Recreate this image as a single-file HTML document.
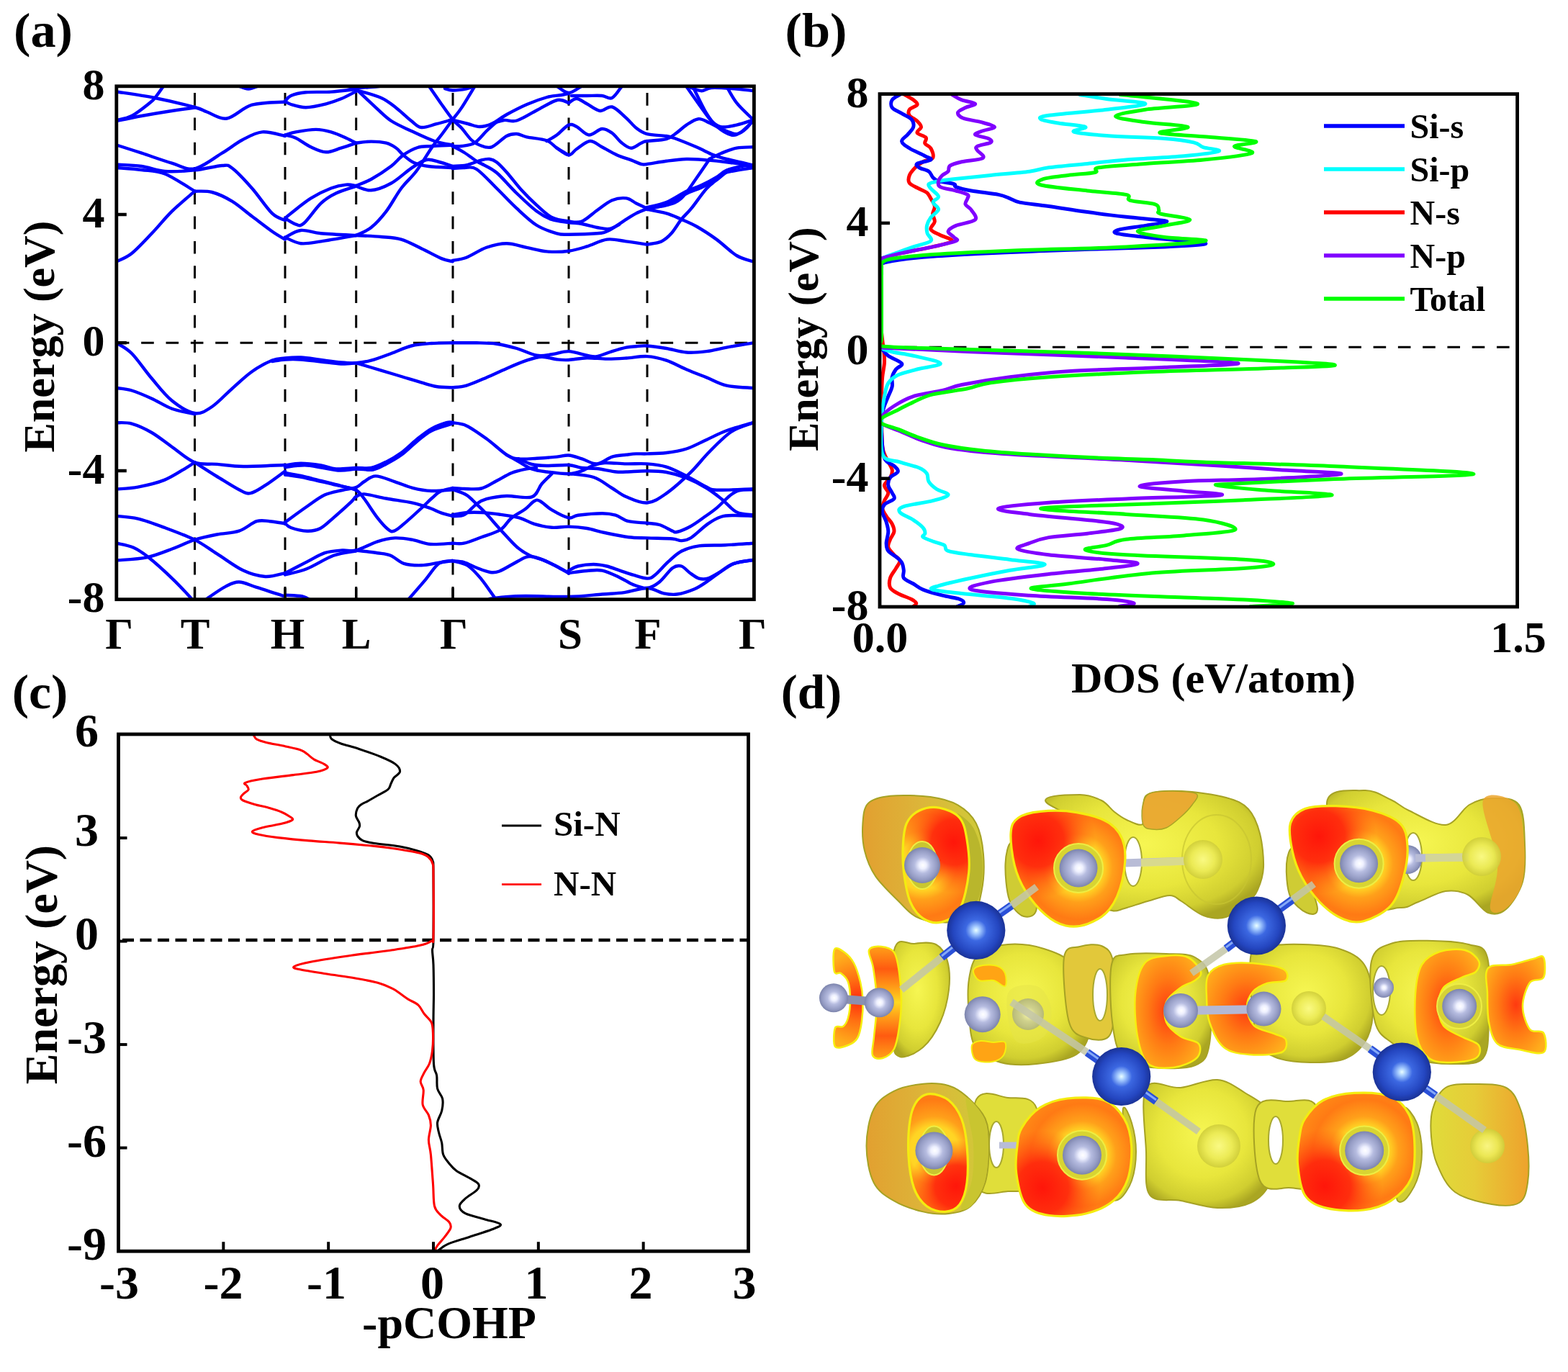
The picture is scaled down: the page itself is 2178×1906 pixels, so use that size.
<!DOCTYPE html>
<html><head><meta charset="utf-8"><title>Figure</title>
<style>html,body{margin:0;padding:0;background:#fff;} svg{display:block;}</style></head>
<body><svg xmlns="http://www.w3.org/2000/svg" width="2178" height="1906" viewBox="0 0 2178 1906" font-family="'Liberation Serif','Times New Roman',serif" font-weight="bold">
<rect width="2178" height="1906" fill="#fff"/>
<path d="M270.5,832.7 L270.5,119.8" stroke="#000" stroke-width="3" stroke-dasharray="17.6 16.7" fill="none"/>
<path d="M396,832.7 L396,119.8" stroke="#000" stroke-width="3" stroke-dasharray="17.6 16.7" fill="none"/>
<path d="M494.7,832.7 L494.7,119.8" stroke="#000" stroke-width="3" stroke-dasharray="17.6 16.7" fill="none"/>
<path d="M629,832.7 L629,119.8" stroke="#000" stroke-width="3" stroke-dasharray="17.6 16.7" fill="none"/>
<path d="M790,832.7 L790,119.8" stroke="#000" stroke-width="3" stroke-dasharray="17.6 16.7" fill="none"/>
<path d="M899,832.7 L899,119.8" stroke="#000" stroke-width="3" stroke-dasharray="17.6 16.7" fill="none"/>
<path d="M161.8,476.2 L1047.4,476.2" stroke="#000" stroke-width="3" stroke-dasharray="17.6 16.75" fill="none"/>
<g fill="none" stroke="#0000ff" stroke-width="4.4" stroke-linecap="round" stroke-linejoin="round" clip-path="url(#clipA)">
<path d="M162.0,127.5 C170.8,128.9 196.9,132.4 215.0,136.0 C233.1,139.6 258.4,145.8 270.5,149.0 C282.6,152.2 280.0,152.9 287.5,155.5 C295.0,158.1 305.0,166.1 315.4,164.5 C325.8,162.9 336.6,149.5 350.0,145.7 C363.4,141.9 388.3,142.2 396.0,141.5"/>
<path d="M162.0,168.0 C167.8,166.8 184.0,163.3 196.8,161.0 C209.6,158.7 226.4,155.9 238.7,154.0 C251.0,152.1 265.2,150.2 270.5,149.5"/>
<path d="M162.0,167.0 C165.5,166.0 175.3,165.0 183.0,161.0 C190.7,157.0 202.4,147.4 208.0,143.0 C213.6,138.6 213.2,138.5 216.4,134.5 C219.7,130.5 225.7,121.6 227.5,119.0"/>
<path d="M330.0,119.0 C332.5,119.8 340.0,123.5 345.0,123.5 C350.0,123.5 357.5,119.8 360.0,119.0"/>
<path d="M162.0,201.5 C167.8,203.4 184.0,208.5 196.8,212.7 C209.6,216.9 226.4,223.0 238.7,226.6 C251.0,230.2 258.9,236.6 270.5,234.3 C282.1,232.0 297.5,219.3 308.5,212.7 C319.5,206.1 327.1,199.4 336.4,194.5 C345.7,189.6 354.4,184.3 364.3,183.4 C374.2,182.5 390.7,188.1 396.0,189.0"/>
<path d="M162.0,228.5 C167.8,228.9 185.6,229.4 196.8,231.0 C208.0,232.6 216.7,237.1 229.0,238.0 C241.3,238.9 257.2,237.7 270.5,236.4 C283.8,235.1 299.9,230.5 308.5,230.0 C317.1,229.5 315.5,228.3 322.4,233.6 C329.3,238.8 340.7,251.0 350.0,261.5 C359.3,272.0 370.3,289.0 378.0,296.4 C385.7,303.8 393.0,304.4 396.0,306.0"/>
<path d="M162.0,233.0 C167.8,233.5 185.6,234.6 196.8,236.0 C208.0,237.4 216.7,236.6 229.0,241.5 C241.3,246.4 263.8,261.7 270.8,265.7"/>
<path d="M270.5,265.7 C274.5,265.9 285.9,264.7 294.5,267.0 C303.1,269.3 313.1,274.0 322.4,279.6 C331.6,285.2 340.7,293.5 350.0,300.5 C359.3,307.5 370.3,316.1 378.0,321.5 C385.7,326.9 393.0,330.8 396.0,332.6"/>
<path d="M162.0,363.3 C165.5,361.4 174.9,358.5 183.0,352.0 C191.1,345.5 201.5,334.0 210.8,324.3 C220.1,314.6 228.8,303.4 238.7,293.6 C248.6,283.8 265.2,270.4 270.5,265.7"/>
<path d="M162.0,476.5 C165.5,478.9 174.9,482.8 183.0,491.0 C191.1,499.2 201.5,514.9 210.8,525.8 C220.1,536.7 228.8,548.5 238.7,556.5 C248.6,564.5 261.2,572.6 270.5,574.0 C279.8,575.4 285.9,570.7 294.5,565.0 C303.1,559.3 313.1,548.0 322.4,539.8 C331.7,531.6 341.0,522.5 350.3,516.0 C359.6,509.4 370.6,503.6 378.2,500.5 C385.8,497.4 389.4,498.2 396.0,497.5 C402.6,496.8 409.6,496.1 417.9,496.5 C426.2,496.9 436.5,498.8 445.8,500.0 C455.1,501.2 465.6,502.8 473.7,503.5 C481.8,504.2 487.6,504.7 494.6,504.2 C501.6,503.7 507.5,502.9 515.6,500.7 C523.8,498.5 534.2,494.4 543.5,491.0 C552.8,487.6 562.1,482.8 571.4,480.5 C580.7,478.2 589.8,477.7 599.3,477.0 C608.8,476.3 623.7,476.4 628.6,476.3"/>
<path d="M162.0,539.0 C165.5,539.6 174.9,540.0 183.0,542.5 C191.1,545.0 201.5,549.5 210.8,553.7 C220.1,557.9 228.8,564.1 238.7,567.7 C248.6,571.3 265.2,574.0 270.5,575.3"/>
<path d="M162.0,587.2 C165.5,587.4 174.9,586.3 183.0,588.6 C191.1,590.9 201.5,595.6 210.8,601.0 C220.1,606.4 228.8,613.8 238.7,620.7 C248.6,627.6 260.0,638.3 270.5,642.3 C281.0,646.3 290.2,643.9 301.5,644.9 C312.8,645.9 322.2,647.8 338.0,648.0 C353.8,648.2 386.3,646.3 396.0,646.0"/>
<path d="M270.5,642.3 C275.7,645.6 291.2,655.7 301.5,662.0 C311.8,668.3 324.3,676.4 332.0,680.3 C339.7,684.2 341.8,686.2 347.9,685.2 C354.0,684.2 360.6,679.3 368.6,674.2 C376.6,669.1 391.4,657.9 396.0,654.6"/>
<path d="M162.0,679.5 C166.9,679.0 180.6,678.7 191.6,676.6 C202.6,674.5 217.0,671.4 228.2,666.9 C239.4,662.4 251.8,653.9 258.8,649.8 C265.9,645.7 268.6,643.5 270.5,642.3"/>
<path d="M162.0,716.9 C166.9,717.5 180.6,718.0 191.6,720.6 C202.6,723.2 215.1,727.9 228.2,732.8 C241.3,737.7 258.2,743.8 270.4,749.9 C282.6,756.0 290.2,762.3 301.5,769.4 C312.8,776.5 326.8,787.3 338.0,792.6 C349.2,797.9 358.9,800.4 368.6,801.0 C378.3,801.6 391.4,797.0 396.0,796.2"/>
<path d="M162.0,778.5 C169.0,777.8 190.7,777.0 203.8,774.3 C216.9,771.5 229.3,766.1 240.4,762.0 C251.5,757.9 260.2,753.1 270.4,749.9 C280.6,746.6 291.2,744.5 301.5,742.5 C311.8,740.5 322.9,740.8 332.0,737.7 C341.1,734.7 349.3,726.5 356.4,724.2 C363.5,722.0 368.1,723.7 374.7,724.2 C381.3,724.7 392.4,726.8 396.0,727.3"/>
<path d="M162.0,754.7 C165.9,755.7 178.1,757.5 185.5,760.8 C192.9,764.1 197.2,767.0 206.3,774.3 C215.5,781.6 230.6,795.4 240.4,804.8 C250.2,814.1 260.3,825.5 264.9,830.4 C269.5,835.3 267.5,833.4 268.0,834.0"/>
<path d="M286.0,834.0 C286.6,833.4 284.7,833.6 289.3,830.4 C293.9,827.2 306.6,818.2 313.7,814.6 C320.8,811.0 324.9,808.3 332.0,808.5 C339.1,808.7 345.7,812.4 356.4,815.8 C367.1,819.1 389.4,826.5 396.0,828.6"/>
<path d="M396.0,140.8 C397.3,139.5 399.2,135.1 404.0,133.0 C408.8,130.9 415.6,129.2 424.9,128.3 C434.2,127.4 448.2,128.3 459.8,127.6 C471.4,126.9 488.8,124.6 494.6,124.0"/>
<path d="M396.0,140.8 C397.3,141.5 399.2,143.6 404.0,145.0 C408.8,146.4 416.8,149.3 424.9,149.2 C433.0,149.1 444.7,146.3 452.8,144.3 C460.9,142.3 466.7,140.2 473.7,137.3 C480.7,134.4 491.1,128.6 494.6,126.9"/>
<path d="M480.7,119.5 C483.0,119.9 488.9,121.8 494.6,122.0 C500.3,122.2 509.1,121.4 515.0,121.0 C520.9,120.6 527.5,119.8 530.0,119.5"/>
<path d="M494.6,125.0 C495.3,125.4 494.2,123.4 498.8,127.6 C503.4,131.8 515.0,143.2 522.5,149.9 C530.0,156.6 535.4,162.7 543.5,168.0 C551.6,173.3 561.4,177.3 571.4,182.0 C581.4,186.7 593.8,192.8 603.4,196.0 C613.0,199.2 624.6,200.6 628.8,201.5"/>
<path d="M494.6,125.0 C500.4,126.8 520.2,131.8 529.5,136.0 C538.8,140.2 543.4,144.6 550.4,149.9 C557.4,155.2 565.6,163.5 571.4,168.0 C577.2,172.5 579.5,176.3 585.3,177.0 C591.1,177.7 599.0,174.0 606.2,172.2 C613.5,170.4 625.0,167.0 628.8,166.0"/>
<path d="M596.5,120.6 C599.1,124.3 606.6,135.4 612.0,143.0 C617.4,150.6 624.0,160.2 628.8,166.0 C633.6,171.8 636.6,173.1 641.0,177.8 C645.4,182.6 650.7,190.6 654.9,194.5 C659.1,198.4 661.4,199.9 666.0,201.5 C670.6,203.1 676.5,206.4 682.8,204.3 C689.1,202.2 697.9,192.1 703.7,189.0 C709.5,185.9 713.1,185.8 717.7,186.0 C722.4,186.2 724.6,188.8 731.6,190.3 C738.6,191.8 752.5,192.6 759.5,195.2 C766.5,197.8 768.4,202.3 773.5,205.7 C778.6,209.1 787.2,213.8 789.9,215.4"/>
<path d="M494.6,327.0 C498.1,325.2 508.6,321.6 515.6,316.0 C522.6,310.4 529.5,302.7 536.5,293.6 C543.5,284.5 550.4,270.8 557.4,261.5 C564.4,252.2 571.3,247.1 578.3,237.8 C585.3,228.5 593.2,214.5 599.3,205.7 C605.4,196.9 610.1,191.6 615.0,185.0 C619.9,178.4 624.5,171.8 628.8,166.0 C633.1,160.2 636.0,157.5 641.0,149.9 C646.0,142.3 656.0,125.5 659.0,120.6"/>
<path d="M396.0,187.5 C398.5,186.8 403.8,184.7 410.9,183.4 C418.0,182.1 430.6,179.9 438.8,179.9 C447.0,179.9 452.8,181.4 459.8,183.4 C466.8,185.4 474.9,189.1 480.7,191.7 C486.5,194.2 492.3,197.5 494.6,198.7"/>
<path d="M396.0,187.5 C398.5,188.2 404.9,188.9 410.9,191.7 C416.9,194.5 424.9,201.0 431.9,204.3 C438.9,207.6 445.8,211.1 452.8,211.3 C459.8,211.5 466.7,207.8 473.7,205.7 C480.7,203.6 491.1,199.9 494.6,198.7"/>
<path d="M494.6,198.7 C498.1,198.3 508.6,196.6 515.6,196.6 C522.6,196.6 530.7,197.2 536.5,198.7 C542.3,200.2 546.4,202.9 550.4,205.7 C554.4,208.5 556.1,212.0 560.2,215.4 C564.3,218.8 569.2,223.4 575.0,226.0 C580.8,228.6 586.0,229.8 595.0,231.0 C604.0,232.2 623.2,232.7 628.8,233.0"/>
<path d="M396.0,303.3 C397.3,302.1 398.0,301.0 404.0,296.4 C410.0,291.8 422.6,281.2 431.9,275.4 C441.2,269.6 451.7,264.6 459.8,261.5 C467.9,258.4 474.9,257.2 480.7,256.6 C486.5,256.0 492.3,257.8 494.6,258.0"/>
<path d="M396.0,303.3 C398.5,304.7 406.6,310.5 410.9,311.7 C415.2,312.9 416.2,315.2 422.0,310.3 C427.8,305.4 438.4,289.4 445.8,282.4 C453.2,275.4 458.6,272.4 466.7,268.5 C474.8,264.6 490.0,260.3 494.6,258.7"/>
<path d="M494.6,258.0 C498.1,256.5 507.5,253.5 515.6,249.0 C523.8,244.5 536.1,236.4 543.5,230.8 C550.9,225.2 554.1,219.7 560.2,215.4 C566.3,211.1 573.4,207.1 580.0,205.0 C586.6,202.9 591.9,203.6 600.0,203.0 C608.1,202.4 624.0,201.8 628.8,201.5"/>
<path d="M494.6,258.7 C498.1,259.6 507.5,265.0 515.6,264.3 C523.8,263.6 534.2,259.6 543.5,254.5 C552.8,249.4 563.3,239.0 571.4,233.6 C579.5,228.2 585.9,223.4 592.3,222.0 C598.7,220.6 603.9,223.5 610.0,225.0 C616.1,226.5 625.7,230.0 628.8,231.0"/>
<path d="M396.0,329.8 C399.6,328.2 409.6,320.9 417.9,320.0 C426.2,319.1 433.0,323.1 445.8,324.3 C458.6,325.5 486.5,326.6 494.6,327.0"/>
<path d="M396.0,329.8 C399.6,331.2 409.6,337.3 417.9,338.2 C426.2,339.1 433.0,337.3 445.8,335.4 C458.6,333.5 486.5,328.4 494.6,327.0"/>
<path d="M494.6,327.0 C500.4,327.3 519.0,328.1 529.5,329.0 C540.0,329.9 548.1,329.9 557.4,332.6 C566.7,335.3 576.0,340.8 585.3,345.2 C594.6,349.6 606.0,356.1 613.2,359.1 C620.5,362.1 626.2,362.6 628.8,363.3"/>
<path d="M378.2,502.0 C381.2,501.6 389.4,499.9 396.0,499.5 C402.6,499.1 409.6,499.0 417.9,499.5 C426.2,500.0 436.5,501.5 445.8,502.5 C455.1,503.5 465.6,505.2 473.7,505.5 C481.8,505.8 491.1,504.4 494.6,504.2"/>
<path d="M494.6,504.2 C500.4,505.9 519.0,511.5 529.5,514.6 C540.0,517.7 548.1,520.2 557.4,523.0 C566.7,525.8 577.2,529.1 585.3,531.4 C593.4,533.7 599.0,535.8 606.2,537.0 C613.4,538.2 624.9,538.2 628.6,538.4"/>
<path d="M396.0,646.5 C399.6,646.0 409.6,643.7 417.9,643.7 C426.2,643.7 437.7,645.2 445.8,646.5 C453.9,647.8 458.6,650.8 466.7,651.4 C474.8,652.0 486.5,650.2 494.6,650.0 C502.8,649.8 508.6,651.4 515.6,650.0 C522.6,648.6 529.5,645.1 536.5,641.6 C543.5,638.1 550.4,634.1 557.4,629.0 C564.4,623.9 571.3,616.5 578.3,610.9 C585.3,605.3 592.3,599.5 599.3,595.6 C606.3,591.7 615.3,588.7 620.2,587.2 C625.1,585.7 627.2,586.9 628.6,586.8"/>
<path d="M396.0,649.0 C401.1,648.6 414.4,645.8 426.6,646.5 C438.8,647.2 458.0,652.7 469.3,653.5 C480.6,654.3 486.5,651.7 494.6,651.5 C502.8,651.3 511.2,653.7 518.2,652.5 C525.2,651.3 530.0,647.9 536.5,644.5 C543.0,641.1 550.4,637.1 557.4,632.0 C564.4,626.9 571.3,619.6 578.3,614.0 C585.3,608.4 590.9,602.8 599.3,598.5 C607.7,594.2 623.7,590.2 628.6,588.5"/>
<path d="M396.0,657.0 C399.6,657.7 409.6,659.2 417.9,661.0 C426.2,662.8 436.5,665.7 445.8,668.0 C455.1,670.3 465.6,672.8 473.7,675.0 C481.8,677.2 489.2,678.0 494.6,681.0 C500.0,684.0 501.1,686.6 506.0,693.0 C510.9,699.4 518.8,712.3 524.3,719.3 C529.8,726.3 535.0,732.1 538.9,735.2 C542.8,738.3 543.8,738.9 547.5,737.7 C551.2,736.5 554.6,733.2 560.9,727.9 C567.2,722.6 578.8,712.0 585.3,706.0 C591.8,700.0 595.5,695.9 600.0,692.0 C604.5,688.1 607.2,684.8 612.0,682.5 C616.8,680.2 625.8,678.8 628.6,678.0"/>
<path d="M396.0,659.5 C401.1,660.3 415.4,662.2 426.6,664.5 C437.8,666.8 451.9,670.4 463.2,673.0 C474.5,675.6 489.4,678.8 494.6,680.0"/>
<path d="M396.0,725.4 C401.1,721.8 417.4,709.8 426.6,703.5 C435.8,697.2 442.9,691.4 451.0,687.6 C459.1,683.9 468.1,682.8 475.4,681.0 C482.7,679.2 489.5,679.0 494.6,677.0 C499.7,675.0 501.5,671.6 506.0,669.0 C510.5,666.4 514.7,661.4 521.8,661.4 C528.9,661.4 540.2,666.6 548.7,669.3 C557.2,672.0 564.7,675.7 573.1,677.8 C581.5,679.9 590.0,681.6 599.3,682.0 C608.5,682.4 623.7,680.6 628.6,680.3"/>
<path d="M396.0,727.0 C397.3,728.0 398.9,731.2 404.0,733.0 C409.1,734.8 419.8,737.5 426.6,737.7 C433.4,737.9 438.9,737.1 445.0,734.0 C451.1,730.9 456.1,725.4 463.2,719.3 C470.3,713.2 482.5,702.3 487.7,697.4 C492.9,692.5 491.6,691.8 494.6,690.0 C497.7,688.2 499.0,686.0 506.0,686.4 C513.0,686.8 525.3,690.5 536.5,692.5 C547.7,694.5 562.9,696.4 573.1,698.6 C583.3,700.9 590.8,703.6 597.5,706.0 C604.2,708.4 608.0,710.9 613.2,712.7 C618.4,714.5 626.0,716.2 628.6,716.9"/>
<path d="M396.0,796.2 C401.1,793.6 417.4,785.1 426.6,780.4 C435.8,775.7 442.9,770.9 451.0,768.2 C459.1,765.6 468.1,765.1 475.4,764.5 C482.7,763.9 486.5,766.5 494.6,764.5 C502.8,762.5 515.3,755.1 524.3,752.3 C533.3,749.4 540.6,747.8 548.7,747.4 C556.8,747.0 565.0,748.5 573.1,749.9 C581.2,751.3 588.2,755.2 597.5,756.0 C606.8,756.8 623.4,754.9 628.6,754.7"/>
<path d="M396.0,798.5 C401.1,797.1 415.4,794.5 426.6,790.0 C437.8,785.5 451.9,775.9 463.2,771.8 C474.5,767.7 489.4,766.5 494.6,765.5"/>
<path d="M494.6,764.5 C499.6,765.1 516.3,767.0 524.3,768.2 C532.3,769.4 536.5,769.4 542.6,771.8 C548.7,774.2 553.8,780.5 560.9,782.8 C568.0,785.0 577.2,785.5 585.3,785.3 C593.4,785.1 602.5,782.6 609.7,781.6 C616.9,780.6 625.5,779.4 628.6,779.0"/>
<path d="M567.0,833.0 C571.1,828.3 584.3,813.2 591.4,804.8 C598.5,796.4 603.5,787.1 609.7,782.8 C615.9,778.5 625.5,779.6 628.6,779.0"/>
<path d="M396.0,826.8 C400.0,827.1 414.0,827.3 420.0,828.5 C426.0,829.7 430.0,833.1 432.0,834.0"/>
<path d="M618.0,123.0 C619.8,123.4 623.6,125.4 628.6,125.5 C633.6,125.6 642.8,124.4 647.9,123.4 C653.0,122.4 657.1,120.2 659.0,119.5"/>
<path d="M628.6,166.6 C632.2,167.5 643.8,170.4 650.0,172.0 C656.2,173.6 660.5,176.0 666.0,176.0 C671.5,176.0 676.7,174.8 683.0,172.0 C689.3,169.2 695.8,163.5 704.0,159.0 C712.2,154.5 722.7,149.0 732.0,145.0 C741.3,141.0 752.0,137.2 760.0,135.0 C768.0,132.8 775.0,132.8 780.0,132.0 C785.0,131.2 788.3,130.3 790.0,130.0"/>
<path d="M683.0,172.0 C685.8,171.2 694.2,167.8 700.0,167.0 C705.8,166.2 710.3,169.8 718.0,167.5 C725.7,165.2 736.7,157.8 746.0,153.0 C755.3,148.2 766.7,140.7 774.0,139.0 C781.3,137.3 787.3,142.3 790.0,143.0"/>
<path d="M628.6,203.0 C630.7,203.0 635.9,203.7 641.0,203.0 C646.1,202.3 653.2,202.2 659.0,198.7 C664.8,195.2 670.7,186.9 675.8,182.0 C680.9,177.1 687.5,171.5 689.8,169.4"/>
<path d="M628.6,203.0 C631.3,204.5 639.5,208.5 645.0,212.0 C650.5,215.5 657.7,221.1 661.9,223.8 C666.1,226.5 668.6,227.3 670.0,228.0"/>
<path d="M628.6,231.0 C631.8,230.7 641.2,230.8 647.9,229.4 C654.6,228.0 663.4,223.8 668.8,222.4 C674.1,221.0 676.5,220.5 680.0,221.0 C683.5,221.5 685.8,222.2 689.8,225.2 C693.8,228.2 697.9,232.7 703.7,239.2 C709.5,245.7 717.6,256.6 724.6,264.3 C731.6,272.0 738.6,278.9 745.6,285.2 C752.6,291.5 759.1,298.3 766.5,302.0 C773.9,305.7 782.9,306.6 789.9,307.5 C796.9,308.4 801.7,310.1 808.3,307.5 C814.9,304.9 822.3,297.1 829.3,292.2 C836.3,287.3 843.4,281.0 850.2,278.2 C857.0,275.4 864.4,274.7 870.0,275.4 C875.6,276.1 878.9,280.1 883.7,282.4 C888.5,284.7 896.3,288.2 898.8,289.4"/>
<path d="M628.6,234.0 C631.3,233.8 639.5,232.8 645.0,233.0 C650.5,233.2 654.4,230.2 661.9,235.0 C669.4,239.8 680.5,252.4 689.8,261.5 C699.1,270.6 708.4,280.8 717.7,289.4 C727.0,298.0 736.3,307.2 745.6,313.0 C754.9,318.8 766.1,322.2 773.5,324.3 C780.9,326.4 780.6,325.7 789.9,325.7 C799.2,325.7 819.9,325.2 829.3,324.3 C838.6,323.4 839.2,323.3 846.0,320.0 C852.8,316.7 863.7,308.6 870.0,304.7 C876.3,300.8 878.9,298.8 883.7,296.4 C888.5,293.9 896.3,291.1 898.8,290.0"/>
<path d="M670.0,228.0 C673.3,230.0 682.0,233.2 690.0,240.0 C698.0,246.8 708.4,259.6 717.7,268.5 C727.0,277.4 737.5,287.5 745.6,293.6 C753.7,299.7 759.1,302.4 766.5,305.0 C773.9,307.6 782.9,308.0 789.9,309.0 C796.9,310.0 801.7,309.8 808.3,311.0 C814.9,312.2 823.0,314.8 829.3,316.0 C835.6,317.2 840.9,318.7 846.0,318.0 C851.1,317.3 857.7,313.0 860.0,312.0"/>
<path d="M628.6,362.0 C631.8,361.3 640.0,360.7 647.9,357.7 C655.8,354.7 666.5,347.1 675.8,343.8 C685.1,340.6 694.4,338.2 703.7,338.2 C713.0,338.2 722.3,341.9 731.6,343.8 C740.9,345.7 749.8,348.6 759.5,349.4 C769.2,350.2 780.6,349.9 789.9,348.7 C799.2,347.5 806.4,345.1 815.3,342.4 C824.2,339.7 834.1,333.8 843.2,332.6 C852.3,331.4 860.5,334.2 869.8,335.4 C879.1,336.6 894.0,338.9 898.8,339.6"/>
<path d="M773.5,119.5 C776.2,121.1 784.1,129.0 789.9,129.0 C795.6,129.0 805.0,121.1 808.0,119.5"/>
<path d="M794.0,133.0 C797.5,133.0 808.3,133.0 815.3,133.0 C822.3,133.0 830.4,132.5 836.2,133.0 C842.0,133.5 845.6,138.2 850.2,136.0 C854.8,133.8 861.7,122.2 864.0,119.5"/>
<path d="M789.9,143.0 C791.8,142.0 796.8,136.8 801.0,137.0 C805.2,137.2 809.9,141.5 815.3,144.3 C820.7,147.1 827.6,153.3 833.4,154.0 C839.2,154.7 844.1,146.9 850.2,148.5 C856.3,150.1 864.2,158.9 869.8,163.8 C875.4,168.7 878.9,174.1 883.7,177.8 C888.5,181.5 891.8,184.3 898.8,186.2 C905.8,188.1 918.8,187.9 925.6,189.0 C932.4,190.1 932.5,190.4 939.5,193.0 C946.5,195.6 958.8,200.6 967.4,204.3 C976.0,208.0 984.1,212.6 991.1,215.4 C998.1,218.2 1000.1,218.7 1009.3,221.0 C1018.4,223.3 1039.9,228.0 1046.0,229.4"/>
<path d="M759.5,196.0 C761.8,194.6 768.4,191.2 773.5,187.5 C778.6,183.8 785.3,175.5 789.9,173.6 C794.5,171.7 796.3,173.7 801.0,176.0 C805.7,178.3 812.1,187.0 818.0,187.5 C823.9,188.0 830.8,179.4 836.2,179.0 C841.6,178.6 845.7,181.6 850.2,184.8 C854.7,188.0 858.6,194.5 863.0,198.0 C867.4,201.5 872.1,205.6 876.7,205.7 C881.3,205.8 887.0,200.3 890.7,198.7 C894.4,197.1 893.0,196.9 898.8,196.0 C904.6,195.1 918.8,195.0 925.6,193.1 C932.4,191.2 934.9,188.1 939.5,184.8 C944.1,181.6 948.4,176.9 953.5,173.6 C958.6,170.3 964.9,165.7 970.2,165.2 C975.6,164.7 980.2,168.5 985.6,170.8 C991.0,173.1 996.0,176.6 1002.3,179.2 C1008.6,181.8 1017.4,186.4 1023.2,186.2 C1029.0,186.0 1033.4,181.1 1037.2,177.8 C1041.0,174.5 1044.5,168.5 1046.0,166.6"/>
<path d="M773.5,205.7 C776.2,207.3 785.3,215.2 789.9,215.4 C794.5,215.6 796.1,210.2 801.0,207.0 C805.9,203.8 813.6,196.4 819.5,196.0 C825.4,195.6 829.9,201.1 836.2,204.3 C842.5,207.5 850.5,212.4 857.2,215.4 C864.0,218.4 871.1,220.3 876.7,222.4 C882.3,224.5 887.0,227.1 890.7,228.0 C894.4,228.9 893.0,228.7 898.8,228.0 C904.6,227.3 916.5,225.0 925.6,223.8 C934.7,222.6 944.2,221.2 953.5,221.0 C962.8,220.8 972.1,221.7 981.4,222.4 C990.7,223.1 998.5,223.8 1009.3,225.2 C1020.1,226.6 1039.9,229.9 1046.0,230.8"/>
<path d="M953.0,119.5 C956.6,124.6 968.5,141.8 974.4,149.9 C980.3,158.0 983.6,163.6 988.3,168.0 C992.9,172.4 996.5,175.5 1002.3,176.4 C1008.1,177.3 1015.9,175.2 1023.2,173.6 C1030.5,172.0 1042.2,167.8 1046.0,166.6"/>
<path d="M962.0,119.5 C965.2,125.8 975.5,147.8 981.0,157.0 C986.5,166.2 989.1,169.9 995.0,175.0 C1000.9,180.1 1010.4,186.2 1016.2,187.5 C1022.0,188.8 1025.0,186.2 1030.0,183.0 C1035.0,179.8 1043.3,170.5 1046.0,168.0"/>
<path d="M1009.0,119.5 C1011.4,123.4 1017.0,135.2 1023.2,142.9 C1029.4,150.7 1042.2,162.2 1046.0,166.0"/>
<path d="M960.0,122.0 C962.4,122.7 969.7,126.2 974.4,126.2 C979.1,126.2 981.1,122.5 988.0,122.0 C994.9,121.5 1006.3,122.3 1016.0,123.0 C1025.7,123.7 1041.0,125.5 1046.0,126.0"/>
<path d="M1046.0,204.3 C1042.2,204.5 1030.5,204.3 1023.2,205.7 C1015.9,207.1 1008.7,210.1 1002.3,212.7 C995.9,215.2 987.9,219.6 985.0,221.0"/>
<path d="M1046.0,229.4 C1043.3,229.7 1036.1,229.8 1030.0,231.0 C1023.9,232.2 1015.1,233.9 1009.3,236.4 C1003.5,238.9 1001.1,242.6 995.3,246.1 C989.5,249.6 981.4,254.0 974.4,257.3 C967.4,260.6 961.6,261.8 953.5,265.7 C945.4,269.6 934.7,277.3 925.6,281.0 C916.5,284.7 903.3,286.8 898.8,288.0"/>
<path d="M1046.0,233.0 C1039.9,234.1 1017.8,236.8 1009.3,239.5 C1000.8,242.2 1001.1,246.0 995.3,249.5 C989.5,253.0 981.4,257.2 974.4,260.5 C967.4,263.8 961.6,265.1 953.5,269.0 C945.4,272.9 934.7,280.3 925.6,284.0 C916.5,287.7 903.3,289.8 898.8,291.0"/>
<path d="M985.6,221.0 C982.6,225.4 973.9,238.4 967.4,247.5 C960.9,256.6 953.5,269.1 946.5,275.4 C939.5,281.7 933.6,282.9 925.6,285.2 C917.6,287.5 903.3,288.4 898.8,289.0"/>
<path d="M1012.0,236.5 C1009.7,238.4 1003.1,243.8 998.0,248.0 C992.9,252.2 987.7,255.1 981.4,262.0 C975.1,268.9 966.2,282.3 960.4,289.4 C954.6,296.5 951.1,298.9 946.5,304.7 C941.9,310.5 937.1,319.2 932.5,324.3 C927.9,329.4 924.2,332.8 918.6,335.4 C913.0,337.9 902.1,338.9 898.8,339.6"/>
<path d="M898.8,290.8 C903.3,291.7 917.6,294.1 925.6,296.4 C933.6,298.7 939.5,301.7 946.5,304.7 C953.5,307.7 959.3,309.9 967.4,314.5 C975.5,319.1 986.0,325.9 995.3,332.6 C1004.6,339.4 1014.8,349.9 1023.2,355.0 C1031.7,360.1 1042.2,361.9 1046.0,363.3"/>
<path d="M628.6,476.3 C634.1,476.3 651.7,476.1 661.9,476.3 C672.1,476.5 680.5,476.4 689.8,477.7 C699.1,479.0 708.4,481.3 717.7,484.0 C727.0,486.7 737.5,492.3 745.6,493.7 C753.7,495.1 759.1,493.2 766.5,492.3 C773.9,491.4 781.8,487.9 789.9,488.1 C798.0,488.3 808.7,492.5 815.3,493.7 C821.9,494.9 823.5,496.0 829.3,495.1 C835.1,494.2 843.4,490.2 850.2,488.1 C857.0,486.0 864.4,483.8 870.0,482.6 C875.6,481.5 878.9,481.6 883.7,481.2 C888.5,480.8 891.8,480.0 898.8,480.5 C905.8,481.0 916.5,482.5 925.6,484.0 C934.7,485.5 944.2,488.8 953.5,489.5 C962.8,490.2 972.1,489.2 981.4,488.1 C990.7,487.0 998.5,484.6 1009.3,482.6 C1020.1,480.6 1039.9,477.4 1046.0,476.3"/>
<path d="M628.6,538.4 C631.8,537.9 640.0,537.9 647.9,535.6 C655.8,533.3 666.5,528.4 675.8,524.4 C685.1,520.4 694.4,515.9 703.7,511.9 C713.0,507.9 723.5,503.4 731.6,500.7 C739.7,498.0 745.5,496.0 752.5,495.8 C759.5,495.6 767.3,498.6 773.5,499.3 C779.7,500.0 782.9,500.4 789.9,500.0 C796.9,499.6 806.4,497.4 815.3,497.2 C824.2,497.0 834.1,498.6 843.2,498.6 C852.3,498.7 860.7,498.1 870.0,497.5 C879.3,496.9 889.5,494.6 898.8,495.1 C908.1,495.6 916.5,497.7 925.6,500.7 C934.7,503.7 944.2,509.3 953.5,513.2 C962.8,517.2 972.1,520.7 981.4,524.4 C990.7,528.1 998.5,533.2 1009.3,535.6 C1020.1,538.0 1039.9,538.4 1046.0,539.0"/>
<path d="M628.6,587.2 C631.8,587.9 640.0,587.7 647.9,591.4 C655.8,595.1 666.5,602.8 675.8,609.5 C685.1,616.2 696.3,627.1 703.7,631.8 C711.1,636.4 713.4,636.6 720.4,637.4 C727.4,638.2 736.8,637.2 745.6,636.7 C754.5,636.2 766.1,635.3 773.5,634.6 C780.9,633.9 784.1,632.0 789.9,632.5 C795.7,633.0 801.7,635.4 808.3,637.4 C814.9,639.4 822.3,644.9 829.3,644.4 C836.3,643.9 843.4,636.7 850.2,634.6 C857.0,632.5 864.4,632.5 870.0,631.8 C875.6,631.1 878.9,630.6 883.7,630.4 C888.5,630.2 891.8,630.6 898.8,630.4 C905.8,630.2 916.5,630.1 925.6,629.0 C934.7,627.9 944.2,626.5 953.5,623.5 C962.8,620.5 972.1,615.1 981.4,610.9 C990.7,606.7 998.5,602.2 1009.3,598.3 C1020.1,594.3 1039.9,589.1 1046.0,587.2"/>
<path d="M703.7,631.8 C706.4,633.3 714.2,637.7 720.0,641.0 C725.8,644.3 732.0,649.0 738.6,651.4 C745.2,653.8 751.0,654.4 759.5,655.5 C768.0,656.6 781.8,658.5 789.9,658.3 C798.0,658.1 802.9,656.1 808.3,654.2 C813.7,652.4 817.0,649.1 822.3,647.2 C827.6,645.3 832.0,643.5 840.0,643.0 C848.0,642.5 860.2,644.2 870.0,644.4 C879.8,644.6 889.5,643.7 898.8,644.4 C908.1,645.1 916.5,645.8 925.6,648.6 C934.7,651.4 944.2,656.5 953.5,661.1 C962.8,665.8 974.4,673.2 981.4,676.5 C988.4,679.8 984.5,680.2 995.3,680.7 C1006.1,681.2 1037.5,679.5 1046.0,679.3"/>
<path d="M720.4,637.4 C723.4,638.7 732.1,643.4 738.6,645.0 C745.1,646.6 751.0,646.8 759.5,647.0 C768.0,647.2 781.8,645.5 789.9,646.0 C798.0,646.5 801.7,649.2 808.3,650.0 C814.9,650.8 821.4,650.1 829.3,651.0 C837.2,651.9 849.0,654.8 855.8,655.5 C862.6,656.2 862.8,655.7 870.0,655.5 C877.2,655.3 889.5,654.1 898.8,654.2 C908.1,654.3 916.5,654.4 925.6,656.0 C934.7,657.6 944.2,660.3 953.5,664.0 C962.8,667.7 973.3,673.1 981.4,678.0 C989.5,682.9 995.3,687.6 1002.3,693.2 C1009.3,698.8 1015.9,707.7 1023.2,711.4 C1030.5,715.1 1042.2,714.8 1046.0,715.5"/>
<path d="M789.9,658.0 C795.7,658.8 814.6,659.7 824.6,663.0 C834.6,666.3 842.5,673.5 850.0,678.0 C857.5,682.5 861.4,686.6 869.5,690.0 C877.6,693.4 889.4,699.3 898.8,698.5 C908.2,697.7 915.6,692.4 925.7,685.4 C935.8,678.4 949.5,665.8 959.4,656.2 C969.3,646.6 975.6,637.4 985.0,628.0 C994.4,618.6 1005.3,606.8 1015.5,600.0 C1025.7,593.2 1040.9,589.6 1046.0,587.5"/>
<path d="M628.6,677.9 C631.3,678.1 638.3,678.9 645.0,679.0 C651.7,679.1 661.3,680.3 668.8,678.5 C676.3,676.7 682.8,671.6 689.8,668.0 C696.8,664.4 703.7,659.8 710.7,657.0 C717.7,654.2 725.9,652.6 731.6,651.4 C737.3,650.2 742.8,650.2 745.0,650.0"/>
<path d="M628.6,680.0 C631.8,681.3 642.4,684.2 647.9,687.6 C653.4,691.0 657.2,695.8 661.9,700.2 C666.5,704.6 670.2,708.1 675.8,714.1 C681.4,720.1 688.7,728.8 695.7,736.4 C702.7,744.0 711.0,753.7 717.7,759.6 C724.4,765.5 729.9,768.8 736.0,771.8 C742.1,774.8 748.2,775.4 754.3,777.9 C760.4,780.4 766.7,783.5 772.6,786.5 C778.5,789.5 787.0,794.6 789.9,796.2"/>
<path d="M628.6,717.0 C631.3,716.7 639.5,717.8 645.0,715.0 C650.5,712.2 656.8,703.8 661.9,700.2 C667.0,696.6 668.8,695.1 675.8,693.2 C682.8,691.3 693.2,689.5 703.7,689.0 C714.2,688.5 730.5,693.2 738.6,690.4 C746.7,687.6 747.9,677.6 752.5,672.3 C757.1,666.9 764.2,660.6 766.5,658.3"/>
<path d="M628.6,715.0 C632.2,714.5 643.3,712.5 650.0,712.0 C656.7,711.5 661.6,711.6 668.8,712.0 C676.0,712.4 684.5,713.3 693.2,714.5 C702.0,715.7 713.2,717.1 721.3,719.3 C729.4,721.5 734.5,725.6 742.0,727.9 C749.5,730.1 758.5,732.2 766.5,732.8 C774.5,733.4 781.8,731.4 789.9,731.6 C798.0,731.8 807.0,732.6 815.3,734.0 C823.6,735.4 830.1,738.0 839.7,740.0 C849.4,742.0 863.3,745.0 873.2,746.2 C883.1,747.4 888.9,747.0 899.0,747.4 C909.1,747.8 926.1,747.9 934.0,748.5 C941.9,749.1 942.2,751.4 946.5,751.1 C950.8,750.9 953.9,750.9 960.0,747.0 C966.1,743.1 976.2,732.7 983.1,727.9 C990.0,723.1 995.2,720.0 1001.4,718.0 C1007.5,716.0 1012.6,716.2 1020.0,716.0 C1027.4,715.8 1041.7,716.8 1046.0,716.9"/>
<path d="M628.6,754.7 C631.2,754.7 637.7,756.1 644.4,754.7 C651.1,753.3 660.4,749.3 668.8,746.2 C677.2,743.1 688.1,740.4 695.0,736.0 C701.9,731.6 704.2,724.8 710.0,720.0 C715.8,715.2 724.6,711.0 729.9,707.0 C735.2,703.0 738.6,698.0 742.0,696.2 C745.4,694.4 745.9,694.0 750.0,696.0 C754.1,698.0 759.9,704.5 766.5,708.4 C773.1,712.3 783.8,718.1 789.9,719.3 C796.0,720.5 795.2,716.7 803.0,715.7 C810.8,714.7 827.9,713.2 836.6,713.2 C845.3,713.2 848.9,713.9 855.0,715.7 C861.1,717.5 865.9,722.4 873.2,724.2 C880.5,726.0 891.9,725.9 899.0,726.7 C906.1,727.5 910.1,727.2 916.0,729.0 C921.9,730.8 930.2,736.0 934.3,737.7 C938.4,739.4 936.3,740.0 940.4,739.0 C944.5,738.0 952.6,734.8 958.7,731.5 C964.8,728.2 970.9,723.6 977.0,719.3 C983.1,715.0 989.2,711.0 995.3,705.9 C1001.4,700.8 1008.5,692.9 1013.6,688.8 C1018.7,684.7 1020.4,682.9 1025.8,681.5 C1031.2,680.1 1042.6,680.5 1046.0,680.3"/>
<path d="M628.6,779.2 C631.2,779.5 638.7,779.4 644.4,781.0 C650.1,782.6 656.6,786.7 662.7,789.0 C668.8,791.3 675.9,794.2 681.0,795.0 C686.1,795.8 688.1,795.6 693.2,793.8 C698.3,792.0 705.5,787.2 711.6,784.0 C717.7,780.8 725.2,776.0 729.9,774.3 C734.6,772.5 735.9,772.9 740.0,773.5 C744.1,774.1 748.9,775.7 754.3,777.9 C759.7,780.1 766.7,783.5 772.6,786.5 C778.5,789.5 787.0,794.6 789.9,796.2"/>
<path d="M628.6,779.2 C632.2,780.3 643.3,781.7 650.0,786.0 C656.7,790.3 662.6,797.4 668.8,804.8 C675.0,812.2 683.7,825.7 687.1,830.4 C690.5,835.1 688.7,832.6 689.0,833.0"/>
<path d="M680.0,832.0 C683.3,831.6 691.7,830.2 700.0,829.5 C708.3,828.8 714.9,828.1 729.9,828.0 C744.9,827.9 772.1,829.4 789.9,829.0 C807.7,828.6 823.7,826.5 836.6,825.5 C849.5,824.5 856.7,824.5 867.1,823.1 C877.5,821.7 889.9,816.8 899.0,817.0 C908.1,817.2 915.1,822.9 922.0,824.3 C928.9,825.7 933.3,826.5 940.4,825.5 C947.5,824.5 957.7,821.2 964.8,818.2 C971.9,815.2 977.0,811.3 983.1,807.2 C989.2,803.1 995.3,797.9 1001.4,793.8 C1007.5,789.7 1012.3,785.4 1019.7,782.8 C1027.1,780.2 1041.6,778.8 1046.0,778.0"/>
<path d="M789.9,792.6 C792.1,791.6 797.2,787.9 803.0,786.5 C808.8,785.1 817.8,784.0 824.4,784.0 C831.0,784.0 836.6,785.1 842.7,786.5 C848.8,787.9 854.9,790.6 861.0,792.6 C867.1,794.6 873.0,796.9 879.3,798.7 C885.6,800.5 893.9,803.6 899.0,803.6 C904.1,803.6 905.0,802.6 909.9,798.7 C914.8,794.8 922.1,785.9 928.2,780.4 C934.3,774.9 939.4,769.4 946.5,765.7 C953.6,762.0 960.7,759.8 970.9,758.4 C981.1,757.0 995.0,757.8 1007.5,757.2 C1020.0,756.6 1039.6,755.1 1046.0,754.7"/>
<path d="M789.9,796.0 C794.1,795.5 807.2,793.6 815.0,793.0 C822.8,792.4 828.9,791.0 836.6,792.6 C844.3,794.2 853.9,799.1 861.0,802.4 C868.1,805.6 873.0,809.7 879.3,812.1 C885.6,814.5 892.9,817.6 899.0,817.0 C905.1,816.4 910.1,813.2 916.0,808.5 C921.9,803.8 929.2,792.7 934.3,789.0 C939.4,785.3 942.4,785.3 946.5,786.5 C950.6,787.7 954.6,793.4 958.7,796.2 C962.8,799.1 966.9,802.4 970.9,803.6 C974.9,804.8 977.9,805.2 983.0,803.6 C988.1,802.0 995.3,797.3 1001.4,793.8 C1007.5,790.3 1012.3,785.4 1019.7,782.8 C1027.1,780.2 1041.6,778.8 1046.0,778.0"/>
</g>
<rect x="161.8" y="119.8" width="885.6000000000001" height="712.9000000000001" fill="none" stroke="#000" stroke-width="4.8"/>
<line x1="161.8" y1="298" x2="175.8" y2="298" stroke="#000" stroke-width="4.5" />
<line x1="161.8" y1="476.2" x2="175.8" y2="476.2" stroke="#000" stroke-width="4.5" />
<line x1="161.8" y1="654" x2="175.8" y2="654" stroke="#000" stroke-width="4.5" />
<line x1="270.5" y1="832.7" x2="270.5" y2="816.7" stroke="#000" stroke-width="3.5" />
<line x1="396" y1="832.7" x2="396" y2="816.7" stroke="#000" stroke-width="3.5" />
<line x1="494.7" y1="832.7" x2="494.7" y2="816.7" stroke="#000" stroke-width="3.5" />
<line x1="629" y1="832.7" x2="629" y2="816.7" stroke="#000" stroke-width="3.5" />
<line x1="790" y1="832.7" x2="790" y2="816.7" stroke="#000" stroke-width="3.5" />
<line x1="899" y1="832.7" x2="899" y2="816.7" stroke="#000" stroke-width="3.5" />
<text x="145.5" y="138" font-size="62" text-anchor="end" >8</text>
<text x="145.5" y="316" font-size="62" text-anchor="end" >4</text>
<text x="145.5" y="494.2" font-size="62" text-anchor="end" >0</text>
<text x="145.5" y="672" font-size="62" text-anchor="end" >-4</text>
<text x="145.5" y="850" font-size="62" text-anchor="end" >-8</text>
<text x="165.6" y="901" font-size="61" text-anchor="middle" >Γ</text>
<text x="271" y="901" font-size="61" text-anchor="middle" >T</text>
<text x="399.6" y="901" font-size="61" text-anchor="middle" >H</text>
<text x="495" y="901" font-size="61" text-anchor="middle" >L</text>
<text x="630.5" y="901" font-size="61" text-anchor="middle" >Γ</text>
<text x="792" y="901" font-size="61" text-anchor="middle" >S</text>
<text x="900" y="901" font-size="61" text-anchor="middle" >F</text>
<text x="1045.5" y="901" font-size="61" text-anchor="middle" >Γ</text>
<text transform="translate(75,467.5) rotate(-90)" font-size="62" text-anchor="middle">Energy (eV)</text>
<text transform="translate(60,64.5) scale(1.05,1)" font-size="67" text-anchor="middle">(a)</text>
<defs><clipPath id="clipA"><rect x="161.8" y="119.8" width="885.6000000000001" height="712.9000000000001"/></clipPath><clipPath id="clipB"><rect x="1222" y="130.6" width="885.5999999999999" height="712.4"/></clipPath><clipPath id="clipC"><rect x="164.5" y="1020" width="875" height="718"/></clipPath></defs>
<path d="M1222,482.2 L2107.6,482.2" stroke="#000" stroke-width="3" stroke-dasharray="17.6 16.68" fill="none"/>
<g fill="none" stroke-width="5" stroke-linecap="round" stroke-linejoin="round" clip-path="url(#clipB)">
<path stroke="#ff0000" d="M1256.6,131.5 C1258.6,132.7 1265.8,136.5 1268.7,138.8 C1271.6,141.1 1274.9,143.3 1274.0,145.5 C1273.1,147.7 1265.1,149.7 1263.3,152.2 C1261.5,154.7 1261.5,157.6 1263.3,160.3 C1265.1,163.0 1271.3,165.6 1274.0,168.3 C1276.7,171.0 1279.5,173.7 1279.5,176.4 C1279.5,179.1 1272.9,182.0 1274.0,184.5 C1275.1,187.0 1284.4,188.8 1286.2,191.2 C1288.0,193.6 1283.7,196.7 1284.8,199.2 C1285.9,201.7 1291.1,202.6 1292.9,206.0 C1294.7,209.4 1297.4,216.3 1295.6,219.4 C1293.8,222.5 1286.1,222.5 1282.1,224.7 C1278.1,226.9 1274.5,229.7 1271.4,232.8 C1268.3,235.9 1264.7,239.9 1263.3,243.5 C1261.9,247.1 1261.0,251.2 1263.3,254.3 C1265.5,257.4 1272.8,260.1 1276.8,262.3 C1280.8,264.5 1284.8,265.4 1287.5,267.7 C1290.2,269.9 1291.1,272.7 1292.9,275.8 C1294.7,278.9 1297.8,282.9 1298.3,286.5 C1298.8,290.1 1295.6,293.6 1295.6,297.2 C1295.6,300.8 1298.8,304.4 1298.3,308.0 C1297.8,311.6 1291.6,315.6 1292.9,318.7 C1294.2,321.8 1301.4,324.1 1306.3,326.8 C1311.2,329.5 1324.2,332.1 1322.4,334.8 C1320.6,337.5 1306.8,340.2 1295.6,342.9 C1284.4,345.6 1267.1,348.3 1255.3,351.0 C1243.5,353.7 1230.1,356.7 1225.0,359.0 C1219.9,361.3 1224.6,364.0 1224.5,365.0"/>
<path stroke="#ff0000" d="M1224.5,462.0 C1224.8,464.2 1225.4,470.3 1226.0,475.0 C1226.6,479.7 1227.6,485.0 1228.0,490.0 C1228.4,495.0 1228.8,499.3 1228.4,504.9 C1228.0,510.5 1226.4,516.2 1225.7,523.7 C1225.0,531.2 1224.7,541.1 1224.5,550.0 C1224.3,558.9 1224.3,565.3 1224.5,577.0 C1224.7,588.7 1224.6,610.1 1225.7,620.0 C1226.8,629.9 1228.8,631.1 1231.1,636.5 C1233.3,641.9 1238.3,648.1 1239.2,652.6 C1240.1,657.1 1238.3,659.8 1236.5,663.4 C1234.7,667.0 1228.9,670.5 1228.4,674.1 C1228.0,677.7 1233.8,681.2 1233.8,684.8 C1233.8,688.4 1229.8,692.0 1228.4,695.6 C1227.1,699.2 1225.2,702.7 1225.7,706.3 C1226.2,709.9 1228.8,713.4 1231.1,717.0 C1233.3,720.6 1237.4,724.2 1239.2,727.8 C1241.0,731.4 1242.4,735.0 1241.9,738.6 C1241.5,742.2 1237.8,745.7 1236.5,749.3 C1235.2,752.9 1232.9,756.4 1233.8,760.0 C1234.7,763.6 1239.2,767.7 1241.9,770.8 C1244.6,773.9 1249.5,775.7 1249.9,778.8 C1250.3,781.9 1246.7,785.6 1244.5,789.6 C1242.3,793.6 1237.8,798.5 1236.5,803.0 C1235.2,807.5 1234.7,812.8 1236.5,816.4 C1238.3,820.0 1242.3,821.8 1247.2,824.5 C1252.1,827.2 1261.8,830.3 1266.0,832.5 C1270.2,834.7 1272.2,836.2 1272.7,837.9 C1273.2,839.6 1269.6,841.7 1269.0,842.5"/>
<path stroke="#0000ff" d="M1250.0,131.5 C1248.2,132.7 1241.0,135.8 1239.2,138.8 C1237.4,141.8 1237.0,146.4 1239.2,149.5 C1241.4,152.6 1248.1,154.9 1252.6,157.6 C1257.1,160.3 1263.3,162.6 1266.0,165.7 C1268.7,168.8 1269.6,172.8 1268.7,176.4 C1267.8,180.0 1263.3,183.8 1260.6,187.1 C1257.9,190.4 1252.1,193.3 1252.6,196.5 C1253.0,199.7 1257.9,202.6 1263.3,206.0 C1268.7,209.4 1279.8,214.0 1284.8,216.7 C1289.8,219.4 1294.8,220.2 1293.0,222.0 C1291.2,223.8 1276.7,225.6 1274.0,227.4 C1271.3,229.2 1274.1,231.0 1276.8,232.8 C1279.5,234.6 1287.1,236.0 1290.2,238.2 C1293.3,240.4 1293.4,244.0 1295.6,246.2 C1297.8,248.4 1298.7,250.0 1303.6,251.6 C1308.5,253.2 1321.1,254.3 1325.1,255.6 C1329.1,256.9 1323.8,258.0 1327.8,259.6 C1331.8,261.2 1339.4,263.2 1349.3,265.0 C1359.2,266.8 1378.0,268.6 1386.9,270.4 C1395.9,272.2 1398.1,274.0 1403.0,275.8 C1407.9,277.6 1407.5,279.3 1416.4,281.1 C1425.4,282.9 1441.0,284.2 1456.7,286.5 C1472.4,288.8 1492.5,292.1 1510.4,294.6 C1528.3,297.1 1548.3,299.5 1564.0,301.3 C1579.7,303.1 1595.0,304.2 1604.4,305.3 C1613.8,306.4 1622.7,306.6 1620.5,308.0 C1618.3,309.4 1601.8,311.6 1591.0,313.4 C1580.2,315.2 1562.7,316.9 1556.0,318.7 C1549.3,320.5 1544.9,322.3 1550.7,324.1 C1556.5,325.9 1575.3,327.7 1591.0,329.5 C1606.7,331.3 1630.8,333.2 1644.7,334.8 C1658.6,336.4 1678.7,337.5 1674.2,338.9 C1669.7,340.2 1654.0,341.3 1617.8,342.9 C1581.5,344.5 1510.4,346.1 1456.7,348.3 C1403.0,350.5 1333.2,353.6 1295.6,356.3 C1258.0,359.0 1242.8,361.8 1231.0,364.4 C1219.2,367.0 1225.6,369.4 1224.5,372.0 C1223.4,374.6 1224.5,378.7 1224.5,380.0"/>
<path stroke="#0000ff" d="M1224.5,484.0 C1226.0,485.7 1229.1,490.7 1233.8,494.2 C1238.5,497.7 1250.8,501.8 1252.6,504.9 C1254.4,508.0 1246.7,509.9 1244.5,513.0 C1242.3,516.1 1240.1,519.7 1239.2,523.7 C1238.3,527.7 1240.1,532.5 1239.2,537.0 C1238.3,541.5 1235.6,546.1 1233.8,550.6 C1232.0,555.1 1229.9,559.5 1228.4,564.0 C1226.9,568.5 1225.7,571.4 1225.0,577.4 C1224.3,583.4 1223.9,590.1 1224.5,600.0 C1225.1,609.9 1225.5,628.6 1228.4,636.5 C1231.3,644.4 1238.8,644.1 1241.9,647.2 C1245.0,650.3 1248.1,652.6 1247.2,655.3 C1246.3,658.0 1238.7,660.3 1236.5,663.4 C1234.3,666.5 1233.3,670.5 1233.8,674.1 C1234.2,677.7 1237.8,681.7 1239.2,684.8 C1240.6,687.9 1243.7,690.2 1241.9,692.9 C1240.1,695.6 1231.1,697.9 1228.4,701.0 C1225.7,704.1 1225.2,707.7 1225.7,711.7 C1226.2,715.7 1229.8,720.6 1231.1,725.1 C1232.4,729.6 1233.8,733.7 1233.8,738.6 C1233.8,743.5 1231.1,750.2 1231.1,754.7 C1231.1,759.2 1231.6,762.3 1233.8,765.4 C1236.0,768.5 1241.4,770.7 1244.5,773.4 C1247.6,776.1 1250.8,778.4 1252.6,781.5 C1254.4,784.6 1254.8,788.7 1255.3,792.3 C1255.8,795.9 1253.1,799.9 1255.3,803.0 C1257.5,806.1 1264.2,808.3 1268.7,811.0 C1273.2,813.7 1275.4,816.4 1282.1,819.1 C1288.8,821.8 1300.5,825.0 1309.0,827.2 C1317.5,829.4 1328.3,830.7 1333.2,832.5 C1338.1,834.3 1339.0,836.2 1338.5,837.9 C1338.0,839.6 1331.4,841.7 1330.0,842.5"/>
<path stroke="#00ffff" d="M1499.7,131.5 C1505.9,132.5 1521.8,135.4 1537.0,137.5 C1552.2,139.6 1591.0,141.8 1591.0,144.2 C1591.0,146.6 1559.7,149.5 1537.3,152.2 C1514.9,154.9 1471.9,158.1 1456.7,160.3 C1441.5,162.6 1443.8,163.9 1446.0,165.7 C1448.2,167.5 1459.7,169.2 1470.0,171.0 C1480.3,172.8 1504.1,174.4 1507.7,176.4 C1511.3,178.4 1486.7,181.1 1491.6,183.1 C1496.5,185.1 1516.3,186.9 1537.3,188.5 C1558.3,190.1 1597.7,190.9 1617.8,192.5 C1637.9,194.1 1649.0,195.9 1658.0,197.9 C1667.0,199.9 1665.7,202.6 1671.5,204.6 C1677.3,206.6 1697.5,208.0 1693.0,210.0 C1688.5,212.0 1666.2,214.7 1644.7,216.7 C1623.2,218.7 1586.4,220.2 1564.0,222.0 C1541.6,223.8 1528.3,225.6 1510.4,227.4 C1492.5,229.2 1470.1,231.0 1456.7,232.8 C1443.3,234.6 1443.5,236.4 1430.0,238.2 C1416.5,240.0 1393.9,241.7 1376.0,243.5 C1358.1,245.3 1334.5,247.6 1322.4,248.9 C1310.3,250.2 1309.0,250.5 1303.6,251.6 C1298.2,252.7 1292.0,253.9 1290.2,255.6 C1288.4,257.3 1290.8,259.1 1293.0,262.0 C1295.2,264.9 1303.1,269.8 1303.6,273.0 C1304.1,276.2 1296.0,278.0 1296.0,281.0 C1296.0,284.0 1304.1,287.5 1303.6,291.0 C1303.1,294.5 1295.7,298.3 1293.0,302.0 C1290.3,305.7 1288.3,309.7 1287.5,313.4 C1286.7,317.1 1287.1,320.4 1288.0,324.0 C1288.9,327.6 1296.1,331.7 1292.9,334.8 C1289.7,337.9 1276.5,340.2 1268.7,342.9 C1260.9,345.6 1253.3,348.3 1246.0,351.0 C1238.7,353.7 1228.6,356.7 1225.0,359.0 C1221.4,361.3 1224.6,364.0 1224.5,365.0"/>
<path stroke="#00ffff" d="M1224.5,484.0 C1227.1,484.8 1232.6,487.3 1240.0,489.0 C1247.4,490.7 1257.7,491.6 1268.7,494.2 C1279.8,496.8 1305.4,501.8 1306.3,504.9 C1307.2,508.0 1283.8,510.3 1274.0,513.0 C1264.2,515.7 1253.9,517.8 1247.2,521.0 C1240.5,524.2 1237.0,527.5 1234.0,532.0 C1231.0,536.5 1230.5,540.5 1229.0,548.0 C1227.5,555.5 1225.5,563.1 1225.0,577.0 C1224.5,590.9 1221.5,620.3 1225.7,631.1 C1229.9,641.9 1241.4,638.8 1249.9,641.9 C1258.4,645.0 1270.5,647.3 1276.8,650.0 C1283.1,652.7 1285.3,654.8 1287.5,658.0 C1289.7,661.2 1287.8,665.4 1290.0,669.0 C1292.2,672.6 1296.5,676.4 1301.0,679.5 C1305.5,682.6 1317.9,684.8 1317.0,687.5 C1316.1,690.2 1305.9,692.9 1295.6,695.6 C1285.3,698.3 1262.9,700.9 1255.3,703.6 C1247.7,706.3 1247.8,708.6 1250.0,711.7 C1252.2,714.8 1263.4,718.8 1268.7,722.4 C1274.0,726.0 1279.4,730.1 1282.1,733.2 C1284.8,736.3 1285.0,738.9 1285.0,741.0 C1285.0,743.1 1280.2,744.2 1282.0,746.0 C1283.8,747.8 1290.6,750.1 1295.6,752.0 C1300.5,753.9 1308.1,755.2 1311.7,757.4 C1315.3,759.6 1310.7,763.2 1317.0,765.4 C1323.3,767.6 1335.0,768.8 1349.3,770.8 C1363.6,772.8 1386.0,775.3 1403.0,777.5 C1420.0,779.7 1451.3,781.7 1451.3,784.2 C1451.3,786.7 1420.0,789.2 1403.0,792.3 C1386.0,795.4 1365.9,799.4 1349.3,803.0 C1332.7,806.6 1312.5,811.1 1303.6,813.8 C1294.6,816.5 1290.2,817.3 1295.6,819.1 C1301.0,820.9 1318.0,822.5 1335.9,824.5 C1353.8,826.5 1386.5,829.0 1403.0,831.2 C1419.5,833.4 1430.7,836.0 1435.2,837.9 C1439.7,839.8 1430.9,841.7 1430.0,842.5"/>
<path stroke="#8000ff" d="M1322.4,131.5 C1324.7,132.7 1330.6,136.7 1336.0,138.8 C1341.4,140.9 1353.8,142.4 1354.6,144.2 C1355.4,146.0 1345.0,147.5 1341.0,149.5 C1337.0,151.5 1331.0,153.8 1330.5,156.3 C1330.0,158.8 1332.6,162.1 1338.0,164.3 C1343.4,166.5 1355.5,167.7 1362.7,169.7 C1370.0,171.7 1381.1,174.4 1381.5,176.4 C1381.9,178.4 1369.5,180.0 1365.0,181.8 C1360.5,183.6 1353.3,185.3 1354.6,187.1 C1355.9,188.9 1369.4,190.7 1373.0,192.5 C1376.6,194.3 1378.7,196.1 1376.1,197.9 C1373.5,199.7 1360.4,201.5 1357.3,203.3 C1354.2,205.1 1355.9,205.9 1357.3,208.6 C1358.7,211.3 1369.0,216.7 1365.4,219.4 C1361.9,222.1 1343.6,222.9 1336.0,224.7 C1328.4,226.5 1322.9,227.8 1319.7,230.1 C1316.5,232.3 1318.8,236.0 1317.0,238.2 C1315.2,240.4 1311.2,241.3 1309.0,243.5 C1306.8,245.7 1304.1,248.9 1303.6,251.6 C1303.1,254.3 1302.0,257.4 1306.0,259.6 C1310.0,261.8 1321.5,263.2 1327.8,265.0 C1334.1,266.8 1341.3,268.6 1344.0,270.4 C1346.7,272.2 1344.4,273.6 1343.9,275.8 C1343.4,278.0 1340.1,281.1 1341.0,283.8 C1341.9,286.5 1347.0,288.3 1349.3,291.9 C1351.6,295.5 1358.1,301.7 1354.6,305.3 C1351.0,308.9 1334.3,310.7 1328.0,313.4 C1321.7,316.1 1317.5,318.7 1317.0,321.4 C1316.5,324.1 1323.2,327.3 1325.0,329.5 C1326.8,331.7 1332.7,332.6 1327.8,334.8 C1322.9,337.0 1307.7,340.2 1295.6,342.9 C1283.5,345.6 1267.1,348.3 1255.3,351.0 C1243.5,353.7 1230.1,356.7 1225.0,359.0 C1219.9,361.3 1224.6,364.0 1224.5,365.0"/>
<path stroke="#8000ff" d="M1224.5,483.0 C1245.3,484.0 1292.7,486.5 1349.3,488.8 C1405.9,491.1 1502.3,494.3 1564.0,496.9 C1625.7,499.5 1710.3,502.3 1719.3,504.5 C1728.3,506.7 1657.1,508.4 1617.8,510.3 C1578.5,512.2 1519.4,513.5 1483.6,515.7 C1447.8,517.9 1427.6,520.6 1403.0,523.7 C1378.4,526.8 1351.6,531.4 1335.9,534.5 C1320.2,537.6 1320.2,539.8 1309.0,542.5 C1297.8,545.2 1279.9,547.0 1268.7,550.6 C1257.5,554.2 1249.0,559.5 1241.9,564.0 C1234.8,568.5 1228.9,573.4 1226.0,577.4 C1223.1,581.4 1220.5,584.6 1224.5,588.2 C1228.5,591.8 1240.4,595.0 1250.0,599.0 C1259.6,603.0 1270.0,608.3 1282.1,612.3 C1294.2,616.3 1302.2,619.9 1322.4,623.0 C1342.6,626.1 1362.7,628.4 1403.0,631.1 C1443.3,633.8 1514.8,636.5 1564.0,639.2 C1613.2,641.9 1662.8,644.9 1698.4,647.2 C1734.0,649.5 1750.4,650.9 1777.8,652.8 C1805.2,654.7 1867.0,656.3 1862.8,658.4 C1858.6,660.5 1788.8,663.8 1752.4,665.5 C1716.1,667.2 1673.0,667.1 1644.7,668.7 C1616.5,670.4 1582.9,673.1 1582.9,675.4 C1582.9,677.6 1626.0,680.1 1644.7,682.2 C1663.4,684.3 1708.7,686.1 1695.2,687.9 C1681.8,689.7 1603.8,691.2 1564.0,692.9 C1524.2,694.6 1486.2,696.1 1456.7,698.3 C1427.2,700.5 1391.4,703.6 1386.9,706.3 C1382.4,709.0 1409.2,711.7 1429.8,714.4 C1450.4,717.1 1490.2,720.2 1510.4,722.4 C1530.6,724.6 1543.1,725.8 1550.7,727.8 C1558.3,729.8 1562.7,732.3 1556.0,734.5 C1549.3,736.7 1527.0,739.2 1510.4,741.2 C1493.9,743.2 1470.1,744.4 1456.7,746.6 C1443.3,748.9 1437.0,752.0 1429.8,754.7 C1422.6,757.4 1409.2,760.0 1413.7,762.7 C1418.2,765.4 1436.1,768.3 1456.7,770.8 C1477.3,773.3 1516.7,775.5 1537.3,777.5 C1557.9,779.5 1580.2,780.9 1580.2,782.9 C1580.2,784.9 1557.9,787.1 1537.3,789.6 C1516.7,792.1 1483.6,794.5 1456.7,797.6 C1429.8,800.7 1393.9,804.8 1376.0,808.4 C1358.1,812.0 1340.3,816.0 1349.3,819.1 C1358.3,822.2 1398.5,825.0 1429.8,827.2 C1461.1,829.4 1513.1,830.7 1537.3,832.5 C1561.5,834.3 1572.0,836.2 1574.9,837.9 C1577.9,839.6 1558.3,841.7 1555.0,842.5"/>
<path stroke="#00ff00" d="M1556.0,131.5 C1559.5,131.8 1559.1,131.4 1577.0,133.5 C1594.9,135.6 1661.2,141.1 1663.5,144.2 C1665.8,147.3 1610.0,149.3 1591.0,152.2 C1572.0,155.1 1549.4,158.7 1549.4,161.6 C1549.4,164.5 1574.2,167.2 1591.0,169.7 C1607.8,172.2 1646.7,173.9 1650.0,176.4 C1653.3,178.9 1607.4,182.3 1611.0,184.5 C1614.6,186.7 1649.3,187.8 1671.5,189.8 C1693.7,191.8 1736.8,194.2 1744.0,196.5 C1751.2,198.8 1715.4,200.6 1714.5,203.3 C1713.6,206.0 1745.9,209.6 1738.7,212.7 C1731.5,215.8 1696.1,219.6 1671.5,222.0 C1646.9,224.4 1615.2,225.6 1591.0,227.4 C1566.8,229.2 1538.2,230.8 1526.5,232.8 C1514.8,234.8 1528.2,237.7 1521.0,239.5 C1513.8,241.3 1495.7,241.9 1483.6,243.5 C1471.5,245.1 1454.9,246.7 1448.6,248.9 C1442.3,251.2 1435.7,254.3 1446.0,257.0 C1456.3,259.7 1490.7,262.8 1510.4,265.0 C1530.1,267.2 1554.2,268.2 1564.0,270.4 C1573.8,272.6 1562.8,276.2 1569.5,278.4 C1576.2,280.6 1597.7,281.6 1604.4,283.8 C1611.1,286.1 1608.5,289.7 1609.8,291.9 C1611.1,294.1 1604.8,294.8 1612.0,297.0 C1619.2,299.2 1651.8,302.6 1652.8,305.3 C1653.8,308.0 1629.9,310.7 1617.8,313.4 C1605.7,316.1 1580.2,318.7 1580.2,321.4 C1580.2,324.1 1602.2,327.3 1617.8,329.5 C1633.4,331.7 1683.0,332.6 1674.0,334.8 C1665.0,337.0 1609.2,340.6 1564.0,342.9 C1518.8,345.1 1447.7,346.5 1403.0,348.3 C1358.3,350.1 1322.4,351.8 1295.6,353.6 C1268.8,355.4 1253.6,357.2 1241.9,359.0 C1230.2,360.8 1228.6,362.2 1225.7,364.4 C1222.8,366.6 1224.7,366.1 1224.5,372.0 C1224.3,377.9 1224.5,383.7 1224.5,400.0 C1224.5,416.3 1224.5,456.6 1224.5,470.0 C1224.5,483.4 1208.2,478.2 1224.5,480.7 C1240.8,483.2 1269.9,483.0 1322.0,484.8 C1374.1,486.6 1461.3,488.7 1537.3,491.5 C1613.3,494.3 1725.0,499.0 1777.8,501.7 C1830.6,504.4 1858.2,505.9 1854.0,507.6 C1849.8,509.3 1794.7,510.4 1752.4,511.9 C1710.1,513.4 1649.3,514.5 1600.0,516.5 C1550.7,518.5 1494.0,521.2 1456.7,523.7 C1419.4,526.2 1394.8,529.1 1376.0,531.8 C1357.2,534.5 1357.4,537.1 1344.0,539.8 C1330.6,542.5 1308.1,544.8 1295.6,547.9 C1283.0,551.0 1276.8,555.0 1268.7,558.6 C1260.6,562.2 1254.3,565.8 1247.2,569.4 C1240.1,573.0 1229.8,577.0 1226.0,580.1 C1222.2,583.2 1221.0,585.5 1224.5,588.2 C1228.0,590.9 1239.0,593.1 1247.2,596.2 C1255.5,599.3 1263.7,603.4 1274.0,607.0 C1284.3,610.6 1294.2,614.6 1309.0,617.7 C1323.8,620.8 1342.6,623.6 1362.7,625.8 C1382.8,628.0 1400.7,629.3 1429.8,631.1 C1458.9,632.9 1508.9,635.3 1537.3,636.5 C1565.7,637.7 1577.6,637.6 1600.0,638.5 C1622.4,639.4 1629.2,640.4 1671.5,641.9 C1713.8,643.4 1791.4,645.0 1854.0,647.8 C1916.6,650.5 2047.0,655.4 2047.0,658.4 C2047.0,661.4 1909.5,663.2 1854.0,665.5 C1798.5,667.8 1741.1,670.4 1714.0,671.9 C1686.9,673.4 1685.0,672.9 1691.4,674.4 C1697.8,675.9 1726.0,678.5 1752.4,680.8 C1778.8,683.0 1854.2,685.6 1850.0,687.9 C1845.8,690.2 1768.7,692.7 1727.0,694.7 C1685.3,696.7 1646.8,697.9 1600.0,699.8 C1553.2,701.7 1452.0,703.9 1446.0,706.3 C1440.0,708.7 1526.4,711.8 1564.0,714.4 C1601.6,717.0 1646.2,718.4 1671.5,722.0 C1696.8,725.6 1720.0,732.4 1715.5,736.0 C1711.0,739.6 1670.0,741.7 1644.7,743.9 C1619.5,746.1 1581.9,747.0 1564.0,749.3 C1546.1,751.5 1546.7,754.9 1537.3,757.4 C1527.9,759.9 1503.2,761.8 1507.7,764.0 C1512.2,766.2 1527.5,768.6 1564.0,770.8 C1600.5,773.0 1692.8,775.2 1727.0,777.3 C1761.2,779.4 1768.9,781.6 1768.9,783.6 C1768.9,785.6 1755.2,787.4 1727.0,789.5 C1698.8,791.6 1640.6,792.4 1600.0,796.0 C1559.4,799.6 1511.5,807.4 1483.6,811.0 C1455.7,814.6 1428.0,815.5 1432.5,817.8 C1437.0,820.0 1475.0,822.5 1510.4,824.5 C1545.8,826.5 1608.6,828.5 1644.7,829.9 C1680.8,831.3 1701.9,831.6 1727.0,833.0 C1752.1,834.4 1793.8,836.6 1795.5,838.2 C1797.2,839.8 1746.8,841.8 1737.0,842.5"/>
</g>
<rect x="1222" y="130.6" width="885.5999999999999" height="712.4" fill="none" stroke="#000" stroke-width="4.8"/>
<line x1="1222" y1="309.9" x2="1236" y2="309.9" stroke="#000" stroke-width="4.5" />
<line x1="1222" y1="664.7" x2="1236" y2="664.7" stroke="#000" stroke-width="4.5" />
<text x="1206.5" y="148.6" font-size="62" text-anchor="end" >8</text>
<text x="1206.5" y="327.9" font-size="62" text-anchor="end" >4</text>
<text x="1206.5" y="505.5" font-size="62" text-anchor="end" >0</text>
<text x="1206.5" y="682.7" font-size="62" text-anchor="end" >-4</text>
<text x="1206.5" y="861" font-size="62" text-anchor="end" >-8</text>
<text x="1222.5" y="906" font-size="62" text-anchor="middle" >0.0</text>
<text x="2109" y="906" font-size="62" text-anchor="middle" >1.5</text>
<text x="1685.5" y="962" font-size="60" text-anchor="middle" >DOS (eV/atom)</text>
<text transform="translate(1136,471) rotate(-90)" font-size="60" text-anchor="middle">Energy (eV)</text>
<text transform="translate(1133.5,65) scale(1.05,1)" font-size="67" text-anchor="middle">(b)</text>
<line x1="1839" y1="175" x2="1951" y2="175" stroke="#0000ff" stroke-width="5.5" />
<text x="1958.5" y="191.5" font-size="48" text-anchor="start" >Si-s</text>
<line x1="1839" y1="235" x2="1951" y2="235" stroke="#00ffff" stroke-width="5.5" />
<text x="1958.5" y="251.5" font-size="48" text-anchor="start" >Si-p</text>
<line x1="1839" y1="295" x2="1951" y2="295" stroke="#ff0000" stroke-width="5.5" />
<text x="1958.5" y="311.5" font-size="48" text-anchor="start" >N-s</text>
<line x1="1839" y1="355" x2="1951" y2="355" stroke="#8000ff" stroke-width="5.5" />
<text x="1958.5" y="371.5" font-size="48" text-anchor="start" >N-p</text>
<line x1="1839" y1="415" x2="1951" y2="415" stroke="#00ff00" stroke-width="5.5" />
<text x="1958.5" y="431.5" font-size="48" text-anchor="start" >Total</text>
<path d="M164.5,1306 L1039.5,1306" stroke="#000" stroke-width="4.6" stroke-dasharray="16 8.5" stroke-dashoffset="19" fill="none"/>
<g fill="none" stroke-width="3.1" stroke-linecap="round" stroke-linejoin="round" clip-path="url(#clipC)">
<path stroke="#000" d="M458.5,1021.0 C458.8,1021.9 458.1,1024.5 460.5,1026.5 C462.9,1028.5 466.5,1030.4 472.9,1032.7 C479.3,1035.0 489.4,1037.4 498.7,1040.5 C508.0,1043.6 520.3,1047.8 528.7,1051.3 C537.1,1054.8 544.8,1058.1 549.3,1061.6 C553.8,1065.0 555.8,1068.9 555.5,1072.0 C555.2,1075.1 549.4,1077.5 547.3,1080.2 C545.2,1083.0 544.5,1085.8 543.1,1088.5 C541.7,1091.2 542.1,1094.0 539.0,1096.7 C535.9,1099.5 529.4,1102.2 524.6,1105.0 C519.8,1107.8 513.9,1111.2 510.1,1113.3 C506.3,1115.4 504.2,1115.8 502.0,1117.4 C499.8,1119.0 497.9,1120.1 496.6,1122.8 C495.3,1125.5 494.0,1130.3 494.4,1133.5 C494.8,1136.7 497.8,1139.7 498.7,1142.1 C499.6,1144.5 500.0,1145.7 499.5,1148.0 C499.0,1150.3 495.9,1153.8 495.5,1156.1 C495.1,1158.4 495.6,1160.0 497.0,1162.0 C498.4,1164.0 500.3,1166.3 504.1,1167.9 C507.9,1169.5 511.4,1170.2 520.0,1171.5 C528.6,1172.8 545.8,1174.3 555.5,1176.0 C565.2,1177.7 571.7,1179.5 578.2,1181.4 C584.8,1183.3 591.0,1185.2 594.8,1187.6 C598.6,1190.0 599.8,1192.2 601.0,1195.9 C602.2,1199.6 601.8,1191.8 602.0,1210.0 C602.2,1228.2 602.2,1286.7 602.0,1305.0 C601.8,1323.3 600.5,1314.2 600.5,1320.0 C600.5,1325.8 601.7,1330.0 602.0,1340.0 C602.3,1350.0 602.5,1366.7 602.5,1380.0 C602.5,1393.3 602.0,1403.7 602.0,1420.0 C602.0,1436.3 601.7,1465.5 602.5,1477.8 C603.3,1490.1 605.8,1488.2 606.6,1494.0 C607.5,1499.8 606.2,1507.0 607.6,1512.4 C609.0,1517.9 613.7,1521.6 614.7,1526.7 C615.7,1531.8 614.9,1537.6 613.7,1543.0 C612.5,1548.4 608.3,1554.2 607.6,1559.3 C606.9,1564.4 608.6,1568.8 609.6,1573.5 C610.6,1578.2 612.7,1582.7 613.7,1587.8 C614.7,1592.9 614.0,1599.2 615.7,1604.0 C617.4,1608.8 620.9,1612.5 623.9,1616.3 C626.9,1620.0 629.2,1623.1 634.0,1626.5 C638.8,1629.9 647.3,1633.7 652.4,1636.7 C657.5,1639.8 662.9,1642.1 664.6,1644.8 C666.3,1647.5 665.7,1649.6 662.6,1653.0 C659.5,1656.4 650.4,1661.5 646.3,1665.2 C642.2,1668.9 638.2,1672.0 638.2,1675.4 C638.2,1678.8 640.5,1682.5 646.3,1685.6 C652.1,1688.6 664.6,1691.2 672.8,1693.7 C680.9,1696.2 693.5,1698.4 695.2,1700.8 C696.9,1703.2 690.1,1705.1 683.0,1708.0 C675.9,1710.9 662.6,1714.8 652.4,1718.2 C642.2,1721.6 629.0,1725.2 621.9,1728.3 C614.8,1731.3 611.6,1735.1 609.6,1736.5"/>
<path stroke="#ff0000" d="M352.6,1021.8 C353.3,1022.7 354.0,1025.6 356.9,1027.2 C359.8,1028.8 363.2,1029.9 369.8,1031.5 C376.4,1033.1 388.6,1035.1 396.7,1036.9 C404.8,1038.7 413.2,1040.4 418.2,1042.2 C423.2,1044.0 423.8,1045.4 426.8,1047.6 C429.8,1049.8 432.5,1052.8 436.4,1055.1 C440.3,1057.4 447.3,1059.6 450.4,1061.6 C453.4,1063.6 456.5,1065.1 454.7,1066.9 C452.9,1068.7 447.6,1070.7 439.7,1072.3 C431.8,1073.9 419.9,1075.0 407.4,1076.6 C394.9,1078.2 375.6,1080.2 364.5,1082.0 C353.4,1083.8 344.4,1085.7 340.8,1087.3 C337.2,1088.9 342.3,1090.0 343.0,1091.6 C343.7,1093.2 345.8,1095.2 345.1,1097.0 C344.4,1098.8 340.5,1100.6 338.7,1102.4 C336.9,1104.2 334.6,1106.2 334.4,1107.8 C334.2,1109.4 334.4,1110.4 337.6,1112.0 C340.8,1113.6 347.4,1115.6 353.7,1117.4 C360.0,1119.2 368.9,1121.0 375.2,1122.8 C381.5,1124.6 387.0,1126.4 391.3,1128.2 C395.6,1130.0 398.5,1131.7 401.0,1133.5 C403.5,1135.3 407.9,1137.1 406.3,1138.9 C404.7,1140.7 398.3,1142.5 391.3,1144.3 C384.3,1146.1 371.3,1147.9 364.5,1149.7 C357.7,1151.5 351.4,1153.4 350.5,1155.0 C349.6,1156.6 353.2,1157.9 359.1,1159.3 C365.0,1160.7 374.3,1162.2 385.9,1163.6 C397.5,1165.0 414.6,1166.7 428.9,1167.9 C443.2,1169.2 456.7,1169.8 471.9,1171.1 C487.1,1172.3 507.8,1174.2 520.0,1175.4 C532.2,1176.6 534.8,1176.9 545.2,1178.5 C555.6,1180.1 574.1,1183.0 582.4,1185.0 C590.7,1187.0 591.7,1188.0 594.8,1190.5 C597.9,1193.0 599.8,1195.7 601.0,1200.0 C602.2,1204.3 601.8,1199.8 602.0,1216.5 C602.2,1233.2 602.5,1284.8 602.0,1300.0 C601.5,1315.2 602.2,1305.1 598.9,1307.4 C595.6,1309.7 591.3,1311.5 582.4,1313.6 C573.5,1315.7 561.7,1317.4 545.2,1319.8 C528.7,1322.2 502.2,1325.2 483.3,1328.0 C464.4,1330.8 444.0,1333.9 431.6,1336.3 C419.2,1338.7 411.6,1340.8 408.9,1342.5 C406.1,1344.2 407.9,1344.9 415.1,1346.6 C422.3,1348.3 439.2,1350.7 452.3,1352.8 C465.4,1354.9 481.6,1356.9 493.6,1359.0 C505.7,1361.1 516.0,1362.8 524.6,1365.2 C533.2,1367.6 540.1,1370.9 545.2,1373.4 C550.4,1375.9 551.9,1377.5 555.5,1380.0 C559.1,1382.5 562.6,1385.4 566.9,1388.1 C571.2,1390.8 577.4,1392.9 581.1,1396.3 C584.8,1399.7 586.2,1404.4 589.3,1408.5 C592.3,1412.6 597.4,1416.0 599.4,1420.7 C601.4,1425.5 601.3,1430.5 601.5,1437.0 C601.7,1443.5 601.4,1453.2 600.5,1460.0 C599.6,1466.8 598.3,1472.8 596.4,1477.8 C594.5,1482.8 591.3,1485.9 589.3,1490.0 C587.3,1494.1 584.4,1498.1 584.2,1502.2 C584.0,1506.3 587.7,1509.0 588.2,1514.4 C588.7,1519.8 586.0,1529.0 587.2,1534.8 C588.4,1540.6 593.5,1544.3 595.4,1549.1 C597.3,1553.8 598.4,1557.5 598.4,1563.3 C598.4,1569.1 595.4,1576.9 595.4,1583.7 C595.4,1590.5 597.4,1593.8 598.4,1604.0 C599.4,1614.2 600.6,1632.9 601.5,1644.8 C602.4,1656.7 601.8,1668.3 603.5,1675.4 C605.2,1682.5 608.3,1683.9 611.7,1687.6 C615.1,1691.3 621.5,1694.7 623.9,1697.8 C626.3,1700.9 626.9,1702.6 625.9,1706.0 C624.9,1709.4 620.8,1714.1 617.8,1718.2 C614.8,1722.3 610.0,1727.1 607.6,1730.4 C605.2,1733.7 604.2,1736.7 603.5,1738.0"/>
</g>
<rect x="164.5" y="1020" width="875.0" height="718.2" fill="none" stroke="#000" stroke-width="4.8"/>
<line x1="164.5" y1="1164.11" x2="176.5" y2="1164.11" stroke="#000" stroke-width="4" />
<line x1="164.5" y1="1307.6" x2="176.5" y2="1307.6" stroke="#000" stroke-width="4" />
<line x1="164.5" y1="1451.09" x2="176.5" y2="1451.09" stroke="#000" stroke-width="4" />
<line x1="164.5" y1="1594.58" x2="176.5" y2="1594.58" stroke="#000" stroke-width="4" />
<line x1="310.33000000000004" y1="1738.2" x2="310.33000000000004" y2="1725.2" stroke="#000" stroke-width="4" />
<line x1="456.16" y1="1738.2" x2="456.16" y2="1725.2" stroke="#000" stroke-width="4" />
<line x1="601.99" y1="1738.2" x2="601.99" y2="1725.2" stroke="#000" stroke-width="4" />
<line x1="747.82" y1="1738.2" x2="747.82" y2="1725.2" stroke="#000" stroke-width="4" />
<line x1="893.6500000000001" y1="1738.2" x2="893.6500000000001" y2="1725.2" stroke="#000" stroke-width="4" />
<text x="120.5" y="1037.1" font-size="66" text-anchor="middle" >6</text>
<text x="120.5" y="1174.5" font-size="66" text-anchor="middle" >3</text>
<text x="120.5" y="1319.1" font-size="66" text-anchor="middle" >0</text>
<text x="120.5" y="1462.8" font-size="66" text-anchor="middle" >-3</text>
<text x="120.5" y="1606.8" font-size="66" text-anchor="middle" >-6</text>
<text x="120.5" y="1749.6" font-size="66" text-anchor="middle" >-9</text>
<text x="165.4" y="1804" font-size="66" text-anchor="middle" >-3</text>
<text x="310" y="1804" font-size="66" text-anchor="middle" >-2</text>
<text x="453.5" y="1804" font-size="66" text-anchor="middle" >-1</text>
<text x="600.5" y="1804" font-size="66" text-anchor="middle" >0</text>
<text x="745" y="1804" font-size="66" text-anchor="middle" >1</text>
<text x="890" y="1804" font-size="66" text-anchor="middle" >2</text>
<text x="1034" y="1804" font-size="66" text-anchor="middle" >3</text>
<text x="624" y="1859" font-size="64" text-anchor="middle" >-pCOHP</text>
<text transform="translate(78.5,1340) rotate(-90)" font-size="64" text-anchor="middle">Energy (eV)</text>
<text transform="translate(55.5,984) scale(1.045,1)" font-size="67" text-anchor="middle">(c)</text>
<line x1="697" y1="1147" x2="752" y2="1147" stroke="#000" stroke-width="2.8" />
<line x1="697" y1="1228.6" x2="752" y2="1228.6" stroke="#ff0000" stroke-width="2.8" />
<text x="769" y="1160.6" font-size="49" text-anchor="start" >Si-N</text>
<text x="769" y="1243.7" font-size="49" text-anchor="start" >N-N</text>
<text transform="translate(1127,984) scale(1.03,1)" font-size="67" text-anchor="middle">(d)</text>
<defs>
<radialGradient id="gY" cx="0.45" cy="0.42" r="0.62"><stop offset="0" stop-color="#f6f652"/><stop offset="0.55" stop-color="#e8e63c"/><stop offset="0.85" stop-color="#d0ce30"/><stop offset="1" stop-color="#aaa622"/></radialGradient>
<linearGradient id="gYO" x1="0" y1="0" x2="1" y2="0"><stop offset="0" stop-color="#e2a030"/><stop offset="0.5" stop-color="#dcb63a"/><stop offset="1" stop-color="#cfcb38"/></linearGradient>
<linearGradient id="gOY" x1="0" y1="0" x2="1" y2="0"><stop offset="0" stop-color="#e0dc3a"/><stop offset="0.45" stop-color="#e6cc38"/><stop offset="1" stop-color="#eea22c"/></linearGradient>
<radialGradient id="gN" cx="0.5" cy="0.5" r="0.5" fx="0.52" fy="0.5"><stop offset="0" stop-color="#ffffff"/><stop offset="0.2" stop-color="#eef0ff"/><stop offset="0.45" stop-color="#b6bce0"/><stop offset="0.8" stop-color="#959cc4"/><stop offset="1" stop-color="#7c84ac"/></radialGradient>
<radialGradient id="gF" cx="0.5" cy="0.5" r="0.5"><stop offset="0" stop-color="#fbfb8a"/><stop offset="0.6" stop-color="#eceb58"/><stop offset="1" stop-color="#cfcd3a"/></radialGradient>
<radialGradient id="gSi" cx="0.5" cy="0.5" r="0.5" fx="0.5" fy="0.5"><stop offset="0" stop-color="#eaffff"/><stop offset="0.13" stop-color="#a6ccff"/><stop offset="0.36" stop-color="#3c68e2"/><stop offset="0.78" stop-color="#2446c0"/><stop offset="1" stop-color="#1a3296"/></radialGradient>
<radialGradient id="gOr" cx="0.5" cy="0.5" r="0.6"><stop offset="0" stop-color="#ff3a10"/><stop offset="0.5" stop-color="#ff7a14"/><stop offset="1" stop-color="#ffae1c"/></radialGradient>
<linearGradient id="gOr2" gradientUnits="userSpaceOnUse" x1="0" y1="1315" x2="0" y2="1470"><stop offset="0" stop-color="#ffa018"/><stop offset="0.2" stop-color="#ff5a10"/><stop offset="0.36" stop-color="#ff9a18"/><stop offset="0.5" stop-color="#ffd820"/><stop offset="0.64" stop-color="#ff9a18"/><stop offset="0.8" stop-color="#ff5a10"/><stop offset="1" stop-color="#ffa018"/></linearGradient>
<radialGradient id="gOr3" gradientUnits="userSpaceOnUse" cx="1192" cy="1389" r="65"><stop offset="0" stop-color="#ff2a0c"/><stop offset="0.45" stop-color="#ff7012"/><stop offset="1" stop-color="#ffb01c"/></radialGradient>
<radialGradient id="gR1" gradientUnits="userSpaceOnUse" cx="1322" cy="1170" r="115"><stop offset="0" stop-color="#ff1408"/><stop offset="0.3" stop-color="#ff2a0c"/><stop offset="0.62" stop-color="#ff6410"/><stop offset="0.88" stop-color="#ff9a18"/><stop offset="1" stop-color="#ffbe22"/></radialGradient>
<radialGradient id="gR2" gradientUnits="userSpaceOnUse" cx="1450" cy="1165" r="135"><stop offset="0" stop-color="#ff1408"/><stop offset="0.3" stop-color="#ff2a0c"/><stop offset="0.62" stop-color="#ff6410"/><stop offset="0.88" stop-color="#ff9a18"/><stop offset="1" stop-color="#ffbe22"/></radialGradient>
<radialGradient id="gR3" gradientUnits="userSpaceOnUse" cx="1838" cy="1160" r="135"><stop offset="0" stop-color="#ff1408"/><stop offset="0.3" stop-color="#ff2a0c"/><stop offset="0.62" stop-color="#ff6410"/><stop offset="0.88" stop-color="#ff9a18"/><stop offset="1" stop-color="#ffbe22"/></radialGradient>
<radialGradient id="gR4" gradientUnits="userSpaceOnUse" cx="1327" cy="1645" r="115"><stop offset="0" stop-color="#ff1408"/><stop offset="0.3" stop-color="#ff2a0c"/><stop offset="0.62" stop-color="#ff6410"/><stop offset="0.88" stop-color="#ff9a18"/><stop offset="1" stop-color="#ffbe22"/></radialGradient>
<radialGradient id="gR5" gradientUnits="userSpaceOnUse" cx="1452" cy="1648" r="140"><stop offset="0" stop-color="#ff1408"/><stop offset="0.3" stop-color="#ff2a0c"/><stop offset="0.62" stop-color="#ff6410"/><stop offset="0.88" stop-color="#ff9a18"/><stop offset="1" stop-color="#ffbe22"/></radialGradient>
<radialGradient id="gR6" gradientUnits="userSpaceOnUse" cx="1843" cy="1645" r="140"><stop offset="0" stop-color="#ff1408"/><stop offset="0.3" stop-color="#ff2a0c"/><stop offset="0.62" stop-color="#ff6410"/><stop offset="0.88" stop-color="#ff9a18"/><stop offset="1" stop-color="#ffbe22"/></radialGradient>
</defs>
<path d="M1452.0,1112.0 C1452.0,1104.3 1487.0,1104.0 1500.0,1104.0 C1513.0,1104.0 1522.0,1108.0 1530.0,1112.0 C1538.0,1116.0 1542.2,1123.5 1548.0,1128.0 C1553.8,1132.5 1558.5,1136.2 1565.0,1139.0 C1571.5,1141.8 1583.2,1148.2 1587.0,1145.0 C1590.8,1141.8 1586.5,1127.0 1588.0,1120.0 C1589.5,1113.0 1587.2,1106.5 1596.0,1103.0 C1604.8,1099.5 1623.2,1098.2 1641.0,1099.0 C1658.8,1099.8 1687.5,1103.8 1703.0,1108.0 C1718.5,1112.2 1726.2,1115.7 1734.0,1124.0 C1741.8,1132.3 1746.5,1144.5 1750.0,1158.0 C1753.5,1171.5 1755.5,1192.0 1755.0,1205.0 C1754.5,1218.0 1750.5,1228.2 1747.0,1236.0 C1743.5,1243.8 1741.3,1245.7 1734.0,1252.0 C1726.7,1258.3 1713.3,1270.7 1703.0,1274.0 C1692.7,1277.3 1682.3,1275.7 1672.0,1272.0 C1661.7,1268.3 1648.8,1256.7 1641.0,1252.0 C1633.2,1247.3 1632.8,1244.0 1625.0,1244.0 C1617.2,1244.0 1604.5,1249.0 1594.0,1252.0 C1583.5,1255.0 1570.2,1259.8 1562.0,1262.0 C1553.8,1264.2 1550.3,1267.0 1545.0,1265.0 C1539.7,1263.0 1537.5,1269.2 1530.0,1250.0 C1522.5,1230.8 1513.0,1173.0 1500.0,1150.0 C1487.0,1127.0 1452.0,1119.7 1452.0,1112.0Z" fill="url(#gY)" stroke="#a6a224" stroke-width="2" />
<path d="M1588.0,1146.0 C1585.8,1140.7 1585.5,1127.3 1587.0,1120.0 C1588.5,1112.7 1589.8,1105.5 1597.0,1102.0 C1604.2,1098.5 1619.2,1098.8 1630.0,1099.0 C1640.8,1099.2 1657.7,1099.8 1662.0,1103.0 C1666.3,1106.2 1659.7,1112.7 1656.0,1118.0 C1652.3,1123.3 1646.0,1129.7 1640.0,1135.0 C1634.0,1140.3 1626.7,1147.2 1620.0,1150.0 C1613.3,1152.8 1605.3,1152.7 1600.0,1152.0 C1594.7,1151.3 1590.2,1151.3 1588.0,1146.0Z" fill="#eaa832" stroke="#a6a224" stroke-width="1.5" opacity="0.95"/>
<ellipse cx="1690" cy="1194" rx="48" ry="62" fill="none" stroke="#c8c432" stroke-width="2" opacity="0.7"/>
<ellipse cx="1574" cy="1197" rx="12" ry="34" fill="#ffffff" stroke="#a8a830" stroke-width="2"/>
<line x1="1560" y1="1199" x2="1650" y2="1196" stroke="#b8bcd6" stroke-width="11" stroke-linecap="butt" opacity="1"/>
<line x1="1585" y1="1199" x2="1650" y2="1196" stroke="#e6e670" stroke-width="11" stroke-linecap="butt" opacity="0.7"/>
<circle cx="1671" cy="1194" r="27" fill="url(#gF)" opacity="0.9"/>
<path d="M1843.0,1118.0 C1842.0,1092.7 1879.2,1099.2 1894.0,1098.0 C1908.8,1096.8 1921.5,1106.3 1932.0,1111.0 C1942.5,1115.7 1944.3,1120.2 1957.0,1126.0 C1969.7,1131.8 1994.0,1147.3 2008.0,1146.0 C2022.0,1144.7 2030.3,1124.2 2041.0,1118.0 C2051.7,1111.8 2060.5,1109.0 2072.0,1109.0 C2083.5,1109.0 2102.3,1107.2 2110.0,1118.0 C2117.7,1128.8 2117.2,1156.2 2118.0,1174.0 C2118.8,1191.8 2119.3,1210.2 2115.0,1225.0 C2110.7,1239.8 2100.0,1255.8 2092.0,1263.0 C2084.0,1270.2 2075.8,1271.3 2067.0,1268.0 C2058.2,1264.7 2048.8,1248.0 2039.0,1243.0 C2029.2,1238.0 2019.5,1236.3 2008.0,1238.0 C1996.5,1239.7 1980.5,1249.2 1970.0,1253.0 C1959.5,1256.8 1956.7,1261.5 1945.0,1261.0 C1933.3,1260.5 1917.0,1273.8 1900.0,1250.0 C1883.0,1226.2 1844.0,1143.3 1843.0,1118.0Z" fill="url(#gY)" stroke="#a6a224" stroke-width="2" />
<path d="M2060.0,1112.0 C2064.2,1098.0 2095.5,1106.3 2105.0,1116.0 C2114.5,1125.7 2115.5,1151.3 2117.0,1170.0 C2118.5,1188.7 2118.2,1212.7 2114.0,1228.0 C2109.8,1243.3 2099.3,1256.3 2092.0,1262.0 C2084.7,1267.7 2072.0,1272.3 2070.0,1262.0 C2068.0,1251.7 2081.7,1225.0 2080.0,1200.0 C2078.3,1175.0 2055.8,1126.0 2060.0,1112.0Z" fill="#eca62e" stroke="none" stroke-width="0" opacity="0.85"/>
<ellipse cx="1963" cy="1190" rx="12" ry="33" fill="#ffffff" stroke="#a8a830" stroke-width="2"/>
<circle cx="1955" cy="1194" r="20" fill="url(#gN)"/>
<line x1="1966" y1="1192" x2="2040" y2="1191" stroke="#b8bcd6" stroke-width="11" stroke-linecap="butt" opacity="1"/>
<line x1="1980" y1="1192" x2="2040" y2="1191" stroke="#e6e670" stroke-width="11" stroke-linecap="butt" opacity="0.6"/>
<circle cx="2058" cy="1190" r="27" fill="url(#gF)" opacity="0.9"/>
<path d="M1198.4,1143.8 C1199.2,1132.8 1199.7,1122.2 1206.0,1115.9 C1212.3,1109.6 1222.1,1107.2 1236.5,1105.7 C1250.9,1104.2 1276.7,1104.9 1292.4,1107.0 C1308.1,1109.1 1319.9,1112.3 1330.5,1118.4 C1341.1,1124.5 1349.9,1132.4 1355.8,1143.8 C1361.7,1155.2 1364.7,1171.3 1366.0,1187.0 C1367.3,1202.7 1366.5,1223.0 1363.5,1237.8 C1360.5,1252.6 1358.4,1268.6 1348.2,1275.8 C1338.0,1283.0 1315.2,1281.4 1302.5,1281.0 C1289.8,1280.6 1280.9,1278.0 1272.0,1273.3 C1263.1,1268.6 1258.5,1262.3 1249.2,1253.0 C1239.9,1243.7 1224.2,1229.2 1216.2,1217.4 C1208.2,1205.6 1204.0,1194.3 1201.0,1182.0 C1198.0,1169.7 1197.6,1154.8 1198.4,1143.8Z" fill="url(#gYO)" stroke="#a6a224" stroke-width="2" />
<path d="M1330.0,1130.0 C1332.3,1130.8 1346.3,1140.0 1352.0,1150.0 C1357.7,1160.0 1362.3,1175.3 1364.0,1190.0 C1365.7,1204.7 1364.8,1224.3 1362.0,1238.0 C1359.2,1251.7 1352.0,1265.3 1347.0,1272.0 C1342.0,1278.7 1332.5,1285.0 1332.0,1278.0 C1331.5,1271.0 1341.7,1246.3 1344.0,1230.0 C1346.3,1213.7 1347.0,1194.2 1346.0,1180.0 C1345.0,1165.8 1340.7,1153.3 1338.0,1145.0 C1335.3,1136.7 1327.7,1129.2 1330.0,1130.0Z" fill="#b9b62c" stroke="none" stroke-width="0" />
<clipPath id="dc1"><path d="M1259.3,1143.8 C1263.1,1135.8 1269.5,1129.6 1277.1,1126.0 C1284.7,1122.4 1295.7,1120.5 1305.0,1122.2 C1314.3,1123.9 1326.7,1128.8 1333.0,1136.2 C1339.3,1143.6 1341.0,1154.0 1343.1,1166.7 C1345.2,1179.4 1347.4,1196.3 1345.7,1212.4 C1344.0,1228.5 1339.3,1251.7 1333.0,1263.1 C1326.7,1274.5 1316.1,1278.9 1307.6,1281.0 C1299.1,1283.1 1289.4,1280.5 1282.2,1275.8 C1275.0,1271.1 1268.9,1263.6 1264.4,1253.0 C1260.0,1242.4 1257.2,1225.5 1255.5,1212.4 C1253.8,1199.3 1253.7,1185.7 1254.3,1174.3 C1254.9,1162.9 1255.5,1151.8 1259.3,1143.8Z"/></clipPath><radialGradient id="dg1" gradientUnits="userSpaceOnUse" cx="1281" cy="1202" r="95"><stop offset="0" stop-color="#ffe428"/><stop offset="0.36" stop-color="#ffd424"/><stop offset="0.5" stop-color="#ffa01a"/><stop offset="0.75" stop-color="#ff7a14"/><stop offset="1" stop-color="#ff8c16"/></radialGradient><radialGradient id="ds1" gradientUnits="userSpaceOnUse" cx="1325" cy="1170" r="70"><stop offset="0" stop-color="#ff160a" stop-opacity="1"/><stop offset="0.45" stop-color="#ff240c" stop-opacity="0.9"/><stop offset="1" stop-color="#ff500e" stop-opacity="0"/></radialGradient><g clip-path="url(#dc1)"><path d="M1259.3,1143.8 C1263.1,1135.8 1269.5,1129.6 1277.1,1126.0 C1284.7,1122.4 1295.7,1120.5 1305.0,1122.2 C1314.3,1123.9 1326.7,1128.8 1333.0,1136.2 C1339.3,1143.6 1341.0,1154.0 1343.1,1166.7 C1345.2,1179.4 1347.4,1196.3 1345.7,1212.4 C1344.0,1228.5 1339.3,1251.7 1333.0,1263.1 C1326.7,1274.5 1316.1,1278.9 1307.6,1281.0 C1299.1,1283.1 1289.4,1280.5 1282.2,1275.8 C1275.0,1271.1 1268.9,1263.6 1264.4,1253.0 C1260.0,1242.4 1257.2,1225.5 1255.5,1212.4 C1253.8,1199.3 1253.7,1185.7 1254.3,1174.3 C1254.9,1162.9 1255.5,1151.8 1259.3,1143.8Z" fill="url(#dg1)"/><path d="M1259.3,1143.8 C1263.1,1135.8 1269.5,1129.6 1277.1,1126.0 C1284.7,1122.4 1295.7,1120.5 1305.0,1122.2 C1314.3,1123.9 1326.7,1128.8 1333.0,1136.2 C1339.3,1143.6 1341.0,1154.0 1343.1,1166.7 C1345.2,1179.4 1347.4,1196.3 1345.7,1212.4 C1344.0,1228.5 1339.3,1251.7 1333.0,1263.1 C1326.7,1274.5 1316.1,1278.9 1307.6,1281.0 C1299.1,1283.1 1289.4,1280.5 1282.2,1275.8 C1275.0,1271.1 1268.9,1263.6 1264.4,1253.0 C1260.0,1242.4 1257.2,1225.5 1255.5,1212.4 C1253.8,1199.3 1253.7,1185.7 1254.3,1174.3 C1254.9,1162.9 1255.5,1151.8 1259.3,1143.8Z" fill="url(#ds1)"/></g><path d="M1259.3,1143.8 C1263.1,1135.8 1269.5,1129.6 1277.1,1126.0 C1284.7,1122.4 1295.7,1120.5 1305.0,1122.2 C1314.3,1123.9 1326.7,1128.8 1333.0,1136.2 C1339.3,1143.6 1341.0,1154.0 1343.1,1166.7 C1345.2,1179.4 1347.4,1196.3 1345.7,1212.4 C1344.0,1228.5 1339.3,1251.7 1333.0,1263.1 C1326.7,1274.5 1316.1,1278.9 1307.6,1281.0 C1299.1,1283.1 1289.4,1280.5 1282.2,1275.8 C1275.0,1271.1 1268.9,1263.6 1264.4,1253.0 C1260.0,1242.4 1257.2,1225.5 1255.5,1212.4 C1253.8,1199.3 1253.7,1185.7 1254.3,1174.3 C1254.9,1162.9 1255.5,1151.8 1259.3,1143.8Z" fill="none" stroke="#f4ec10" stroke-width="3.2"/><ellipse cx="1281" cy="1202" rx="21" ry="33" fill="#c9c630" stroke="#eeee44" stroke-width="2"/><circle cx="1281" cy="1202" r="25" fill="url(#gN)"/>
<path d="M1396.5,1200.0 C1397.0,1186.7 1400.2,1171.7 1405.0,1170.0 C1409.8,1168.3 1419.2,1175.0 1425.0,1190.0 C1430.8,1205.0 1440.5,1246.2 1440.0,1260.0 C1439.5,1273.8 1428.3,1274.7 1422.0,1273.0 C1415.7,1271.3 1406.2,1262.2 1402.0,1250.0 C1397.8,1237.8 1396.0,1213.3 1396.5,1200.0Z" fill="#cfcc34" stroke="#a6a224" stroke-width="2" />
<clipPath id="dc2"><path d="M1404.1,1156.5 C1404.9,1145.5 1407.5,1141.1 1414.3,1136.2 C1421.1,1131.3 1431.2,1128.6 1444.7,1127.3 C1458.2,1126.0 1479.4,1125.8 1495.5,1128.6 C1511.6,1131.3 1530.2,1136.2 1541.2,1143.8 C1552.2,1151.4 1558.5,1161.2 1561.5,1174.3 C1564.5,1187.4 1562.4,1207.7 1559.0,1222.5 C1555.6,1237.3 1549.2,1252.9 1541.2,1263.1 C1533.2,1273.3 1521.0,1279.7 1510.8,1283.5 C1500.6,1287.3 1490.0,1288.1 1480.3,1286.0 C1470.5,1283.9 1461.6,1278.8 1452.3,1270.8 C1443.0,1262.8 1431.6,1249.2 1424.4,1237.8 C1417.2,1226.4 1412.6,1215.8 1409.2,1202.2 C1405.8,1188.7 1403.2,1167.5 1404.1,1156.5Z"/></clipPath><radialGradient id="dg2" gradientUnits="userSpaceOnUse" cx="1498" cy="1206" r="95"><stop offset="0" stop-color="#ffe428"/><stop offset="0.36" stop-color="#ffd424"/><stop offset="0.5" stop-color="#ffa01a"/><stop offset="0.75" stop-color="#ff7a14"/><stop offset="1" stop-color="#ff8c16"/></radialGradient><radialGradient id="ds2" gradientUnits="userSpaceOnUse" cx="1442" cy="1168" r="80"><stop offset="0" stop-color="#ff160a" stop-opacity="1"/><stop offset="0.45" stop-color="#ff240c" stop-opacity="0.9"/><stop offset="1" stop-color="#ff500e" stop-opacity="0"/></radialGradient><g clip-path="url(#dc2)"><path d="M1404.1,1156.5 C1404.9,1145.5 1407.5,1141.1 1414.3,1136.2 C1421.1,1131.3 1431.2,1128.6 1444.7,1127.3 C1458.2,1126.0 1479.4,1125.8 1495.5,1128.6 C1511.6,1131.3 1530.2,1136.2 1541.2,1143.8 C1552.2,1151.4 1558.5,1161.2 1561.5,1174.3 C1564.5,1187.4 1562.4,1207.7 1559.0,1222.5 C1555.6,1237.3 1549.2,1252.9 1541.2,1263.1 C1533.2,1273.3 1521.0,1279.7 1510.8,1283.5 C1500.6,1287.3 1490.0,1288.1 1480.3,1286.0 C1470.5,1283.9 1461.6,1278.8 1452.3,1270.8 C1443.0,1262.8 1431.6,1249.2 1424.4,1237.8 C1417.2,1226.4 1412.6,1215.8 1409.2,1202.2 C1405.8,1188.7 1403.2,1167.5 1404.1,1156.5Z" fill="url(#dg2)"/><path d="M1404.1,1156.5 C1404.9,1145.5 1407.5,1141.1 1414.3,1136.2 C1421.1,1131.3 1431.2,1128.6 1444.7,1127.3 C1458.2,1126.0 1479.4,1125.8 1495.5,1128.6 C1511.6,1131.3 1530.2,1136.2 1541.2,1143.8 C1552.2,1151.4 1558.5,1161.2 1561.5,1174.3 C1564.5,1187.4 1562.4,1207.7 1559.0,1222.5 C1555.6,1237.3 1549.2,1252.9 1541.2,1263.1 C1533.2,1273.3 1521.0,1279.7 1510.8,1283.5 C1500.6,1287.3 1490.0,1288.1 1480.3,1286.0 C1470.5,1283.9 1461.6,1278.8 1452.3,1270.8 C1443.0,1262.8 1431.6,1249.2 1424.4,1237.8 C1417.2,1226.4 1412.6,1215.8 1409.2,1202.2 C1405.8,1188.7 1403.2,1167.5 1404.1,1156.5Z" fill="url(#ds2)"/></g><path d="M1404.1,1156.5 C1404.9,1145.5 1407.5,1141.1 1414.3,1136.2 C1421.1,1131.3 1431.2,1128.6 1444.7,1127.3 C1458.2,1126.0 1479.4,1125.8 1495.5,1128.6 C1511.6,1131.3 1530.2,1136.2 1541.2,1143.8 C1552.2,1151.4 1558.5,1161.2 1561.5,1174.3 C1564.5,1187.4 1562.4,1207.7 1559.0,1222.5 C1555.6,1237.3 1549.2,1252.9 1541.2,1263.1 C1533.2,1273.3 1521.0,1279.7 1510.8,1283.5 C1500.6,1287.3 1490.0,1288.1 1480.3,1286.0 C1470.5,1283.9 1461.6,1278.8 1452.3,1270.8 C1443.0,1262.8 1431.6,1249.2 1424.4,1237.8 C1417.2,1226.4 1412.6,1215.8 1409.2,1202.2 C1405.8,1188.7 1403.2,1167.5 1404.1,1156.5Z" fill="none" stroke="#f4ec10" stroke-width="3.2"/><circle cx="1498" cy="1206" r="34" fill="#d8d432" stroke="#eeee44" stroke-width="2"/><circle cx="1498" cy="1206" r="26.5" fill="url(#gN)"/>
<path d="M1787.0,1200.0 C1787.7,1188.8 1791.8,1176.3 1796.0,1178.0 C1800.2,1179.7 1806.3,1196.0 1812.0,1210.0 C1817.7,1224.0 1829.5,1252.3 1830.0,1262.0 C1830.5,1271.7 1821.3,1270.8 1815.0,1268.0 C1808.7,1265.2 1796.7,1256.3 1792.0,1245.0 C1787.3,1233.7 1786.3,1211.2 1787.0,1200.0Z" fill="#cfcc34" stroke="#a6a224" stroke-width="2" />
<clipPath id="dc3"><path d="M1792.4,1143.8 C1795.4,1134.1 1802.1,1127.5 1812.7,1123.5 C1823.3,1119.5 1840.2,1119.3 1855.8,1119.7 C1871.4,1120.1 1891.8,1122.0 1906.6,1126.0 C1921.4,1130.0 1936.7,1135.8 1944.7,1143.8 C1952.8,1151.8 1954.1,1162.0 1954.9,1174.3 C1955.8,1186.6 1953.6,1203.5 1949.8,1217.4 C1946.0,1231.4 1941.3,1247.6 1932.0,1258.0 C1922.7,1268.4 1905.4,1276.7 1894.0,1279.7 C1882.6,1282.7 1873.7,1280.2 1863.5,1275.8 C1853.3,1271.3 1842.3,1262.7 1833.0,1253.0 C1823.7,1243.3 1813.9,1229.2 1807.6,1217.4 C1801.3,1205.6 1797.5,1194.2 1795.0,1181.9 C1792.5,1169.6 1789.5,1153.5 1792.4,1143.8Z"/></clipPath><radialGradient id="dg3" gradientUnits="userSpaceOnUse" cx="1887.6" cy="1199.7" r="95"><stop offset="0" stop-color="#ffe428"/><stop offset="0.36" stop-color="#ffd424"/><stop offset="0.5" stop-color="#ffa01a"/><stop offset="0.75" stop-color="#ff7a14"/><stop offset="1" stop-color="#ff8c16"/></radialGradient><radialGradient id="ds3" gradientUnits="userSpaceOnUse" cx="1832" cy="1162" r="80"><stop offset="0" stop-color="#ff160a" stop-opacity="1"/><stop offset="0.45" stop-color="#ff240c" stop-opacity="0.9"/><stop offset="1" stop-color="#ff500e" stop-opacity="0"/></radialGradient><g clip-path="url(#dc3)"><path d="M1792.4,1143.8 C1795.4,1134.1 1802.1,1127.5 1812.7,1123.5 C1823.3,1119.5 1840.2,1119.3 1855.8,1119.7 C1871.4,1120.1 1891.8,1122.0 1906.6,1126.0 C1921.4,1130.0 1936.7,1135.8 1944.7,1143.8 C1952.8,1151.8 1954.1,1162.0 1954.9,1174.3 C1955.8,1186.6 1953.6,1203.5 1949.8,1217.4 C1946.0,1231.4 1941.3,1247.6 1932.0,1258.0 C1922.7,1268.4 1905.4,1276.7 1894.0,1279.7 C1882.6,1282.7 1873.7,1280.2 1863.5,1275.8 C1853.3,1271.3 1842.3,1262.7 1833.0,1253.0 C1823.7,1243.3 1813.9,1229.2 1807.6,1217.4 C1801.3,1205.6 1797.5,1194.2 1795.0,1181.9 C1792.5,1169.6 1789.5,1153.5 1792.4,1143.8Z" fill="url(#dg3)"/><path d="M1792.4,1143.8 C1795.4,1134.1 1802.1,1127.5 1812.7,1123.5 C1823.3,1119.5 1840.2,1119.3 1855.8,1119.7 C1871.4,1120.1 1891.8,1122.0 1906.6,1126.0 C1921.4,1130.0 1936.7,1135.8 1944.7,1143.8 C1952.8,1151.8 1954.1,1162.0 1954.9,1174.3 C1955.8,1186.6 1953.6,1203.5 1949.8,1217.4 C1946.0,1231.4 1941.3,1247.6 1932.0,1258.0 C1922.7,1268.4 1905.4,1276.7 1894.0,1279.7 C1882.6,1282.7 1873.7,1280.2 1863.5,1275.8 C1853.3,1271.3 1842.3,1262.7 1833.0,1253.0 C1823.7,1243.3 1813.9,1229.2 1807.6,1217.4 C1801.3,1205.6 1797.5,1194.2 1795.0,1181.9 C1792.5,1169.6 1789.5,1153.5 1792.4,1143.8Z" fill="url(#ds3)"/></g><path d="M1792.4,1143.8 C1795.4,1134.1 1802.1,1127.5 1812.7,1123.5 C1823.3,1119.5 1840.2,1119.3 1855.8,1119.7 C1871.4,1120.1 1891.8,1122.0 1906.6,1126.0 C1921.4,1130.0 1936.7,1135.8 1944.7,1143.8 C1952.8,1151.8 1954.1,1162.0 1954.9,1174.3 C1955.8,1186.6 1953.6,1203.5 1949.8,1217.4 C1946.0,1231.4 1941.3,1247.6 1932.0,1258.0 C1922.7,1268.4 1905.4,1276.7 1894.0,1279.7 C1882.6,1282.7 1873.7,1280.2 1863.5,1275.8 C1853.3,1271.3 1842.3,1262.7 1833.0,1253.0 C1823.7,1243.3 1813.9,1229.2 1807.6,1217.4 C1801.3,1205.6 1797.5,1194.2 1795.0,1181.9 C1792.5,1169.6 1789.5,1153.5 1792.4,1143.8Z" fill="none" stroke="#f4ec10" stroke-width="3.2"/><circle cx="1887.6" cy="1199.7" r="34" fill="#d8d432" stroke="#eeee44" stroke-width="2"/><circle cx="1887.6" cy="1199.7" r="26.5" fill="url(#gN)"/>
<path d="M1737.0,1330.0 C1739.5,1309.2 1747.8,1318.0 1760.0,1315.0 C1772.2,1312.0 1793.3,1311.5 1810.0,1312.0 C1826.7,1312.5 1845.8,1313.3 1860.0,1318.0 C1874.2,1322.7 1887.2,1328.0 1895.0,1340.0 C1902.8,1352.0 1906.2,1373.3 1907.0,1390.0 C1907.8,1406.7 1906.2,1426.7 1900.0,1440.0 C1893.8,1453.3 1883.3,1464.0 1870.0,1470.0 C1856.7,1476.0 1836.7,1476.3 1820.0,1476.0 C1803.3,1475.7 1782.5,1474.0 1770.0,1468.0 C1757.5,1462.0 1750.5,1463.0 1745.0,1440.0 C1739.5,1417.0 1734.5,1350.8 1737.0,1330.0Z" fill="url(#gY)" stroke="#a6a224" stroke-width="2" />
<path d="M1905.0,1335.0 C1909.2,1316.7 1920.8,1314.7 1935.0,1310.0 C1949.2,1305.3 1972.5,1306.7 1990.0,1307.0 C2007.5,1307.3 2027.3,1308.2 2040.0,1312.0 C2052.7,1315.8 2061.3,1312.0 2066.0,1330.0 C2070.7,1348.0 2069.0,1396.7 2068.0,1420.0 C2067.0,1443.3 2068.0,1460.3 2060.0,1470.0 C2052.0,1479.7 2035.0,1477.7 2020.0,1478.0 C2005.0,1478.3 1984.2,1476.7 1970.0,1472.0 C1955.8,1467.3 1945.0,1458.7 1935.0,1450.0 C1925.0,1441.3 1915.0,1439.2 1910.0,1420.0 C1905.0,1400.8 1900.8,1353.3 1905.0,1335.0Z" fill="url(#gY)" stroke="#a6a224" stroke-width="2" />
<ellipse cx="1919" cy="1376" rx="12" ry="34" fill="#ffffff" stroke="#a8a830" stroke-width="2"/>
<circle cx="1922" cy="1372" r="14" fill="url(#gN)"/>
<circle cx="1818" cy="1401" r="24" fill="url(#gF)" opacity="0.9"/>
<path d="M1346.0,1360.0 C1348.3,1345.8 1351.0,1333.0 1360.0,1325.0 C1369.0,1317.0 1385.0,1313.2 1400.0,1312.0 C1415.0,1310.8 1435.0,1313.3 1450.0,1318.0 C1465.0,1322.7 1479.7,1328.0 1490.0,1340.0 C1500.3,1352.0 1507.8,1375.0 1512.0,1390.0 C1516.2,1405.0 1517.8,1417.5 1515.0,1430.0 C1512.2,1442.5 1507.5,1457.0 1495.0,1465.0 C1482.5,1473.0 1457.5,1476.2 1440.0,1478.0 C1422.5,1479.8 1404.2,1479.8 1390.0,1476.0 C1375.8,1472.2 1362.3,1466.0 1355.0,1455.0 C1347.7,1444.0 1347.5,1425.8 1346.0,1410.0 C1344.5,1394.2 1343.7,1374.2 1346.0,1360.0Z" fill="url(#gY)" stroke="#a6a224" stroke-width="2" />
<path d="M1478.0,1330.0 C1480.5,1312.5 1491.3,1317.7 1500.0,1315.0 C1508.7,1312.3 1522.3,1310.7 1530.0,1314.0 C1537.7,1317.3 1543.0,1320.7 1546.0,1335.0 C1549.0,1349.3 1549.0,1382.5 1548.0,1400.0 C1547.0,1417.5 1546.3,1433.0 1540.0,1440.0 C1533.7,1447.0 1519.2,1445.3 1510.0,1442.0 C1500.8,1438.7 1490.3,1438.7 1485.0,1420.0 C1479.7,1401.3 1475.5,1347.5 1478.0,1330.0Z" fill="#e2c83a" stroke="#a6a224" stroke-width="2" />
<ellipse cx="1528" cy="1382" rx="10" ry="36" fill="#ffffff" stroke="#a8a830" stroke-width="2"/>
<path d="M1544.0,1340.0 C1547.3,1324.3 1552.3,1328.5 1565.0,1326.0 C1577.7,1323.5 1604.2,1324.3 1620.0,1325.0 C1635.8,1325.7 1650.0,1324.2 1660.0,1330.0 C1670.0,1335.8 1676.7,1340.0 1680.0,1360.0 C1683.3,1380.0 1683.3,1430.0 1680.0,1450.0 C1676.7,1470.0 1673.3,1474.5 1660.0,1480.0 C1646.7,1485.5 1616.7,1484.7 1600.0,1483.0 C1583.3,1481.3 1569.2,1480.5 1560.0,1470.0 C1550.8,1459.5 1547.7,1441.7 1545.0,1420.0 C1542.3,1398.3 1540.7,1355.7 1544.0,1340.0Z" fill="url(#gY)" stroke="#a6a224" stroke-width="2" />
<path d="M1242.0,1320.0 C1247.0,1298.5 1260.3,1312.3 1270.0,1311.0 C1279.7,1309.7 1292.3,1308.0 1300.0,1312.0 C1307.7,1316.0 1313.0,1324.5 1316.0,1335.0 C1319.0,1345.5 1319.7,1360.8 1318.0,1375.0 C1316.3,1389.2 1312.0,1406.7 1306.0,1420.0 C1300.0,1433.3 1291.3,1447.0 1282.0,1455.0 C1272.7,1463.0 1257.0,1470.5 1250.0,1468.0 C1243.0,1465.5 1241.3,1464.7 1240.0,1440.0 C1238.7,1415.3 1237.0,1341.5 1242.0,1320.0Z" fill="url(#gY)" stroke="#a6a224" stroke-width="2" />
<path d="M1207.0,1320.0 C1208.8,1315.0 1218.2,1314.5 1224.0,1315.0 C1229.8,1315.5 1237.8,1317.0 1242.0,1323.0 C1246.2,1329.0 1247.3,1340.0 1249.0,1351.0 C1250.7,1362.0 1252.0,1376.3 1252.0,1389.0 C1252.0,1401.7 1250.7,1415.7 1249.0,1427.0 C1247.3,1438.3 1245.8,1449.8 1242.0,1457.0 C1238.2,1464.2 1231.0,1468.5 1226.0,1470.0 C1221.0,1471.5 1214.0,1471.0 1212.0,1466.0 C1210.0,1461.0 1213.0,1452.3 1214.0,1440.0 C1215.0,1427.7 1218.2,1407.8 1218.0,1392.0 C1217.8,1376.2 1214.8,1357.0 1213.0,1345.0 C1211.2,1333.0 1205.2,1325.0 1207.0,1320.0Z" fill="url(#gOr2)" stroke="#f6ee10" stroke-width="2.5" />
<path d="M1159.0,1319.0 C1161.3,1314.5 1168.5,1319.8 1173.0,1323.0 C1177.5,1326.2 1182.3,1331.2 1186.0,1338.0 C1189.7,1344.8 1192.9,1355.5 1195.0,1364.0 C1197.1,1372.5 1198.2,1379.8 1198.5,1389.0 C1198.8,1398.2 1198.2,1410.2 1197.0,1419.0 C1195.8,1427.8 1194.2,1436.5 1191.0,1442.0 C1187.8,1447.5 1183.2,1450.0 1178.0,1452.0 C1172.8,1454.0 1163.0,1458.0 1160.0,1454.0 C1157.0,1450.0 1158.2,1432.7 1160.0,1428.0 C1161.8,1423.3 1168.0,1428.3 1171.0,1426.0 C1174.0,1423.7 1176.3,1420.2 1178.0,1414.0 C1179.7,1407.8 1181.0,1397.3 1181.0,1389.0 C1181.0,1380.7 1180.2,1370.2 1178.0,1364.0 C1175.8,1357.8 1171.2,1354.3 1168.0,1352.0 C1164.8,1349.7 1160.5,1355.5 1159.0,1350.0 C1157.5,1344.5 1156.7,1323.5 1159.0,1319.0Z" fill="url(#gOr3)" stroke="#f6ee10" stroke-width="2.5" />
<line x1="1158" y1="1387" x2="1221" y2="1392" stroke="#8a90b0" stroke-width="12" stroke-linecap="butt" opacity="1"/>
<circle cx="1158" cy="1386.3" r="20" fill="url(#gN)"/>
<circle cx="1221.3" cy="1392.7" r="20.5" fill="url(#gN)"/>
<path d="M1352.0,1348.0 C1352.8,1344.5 1359.5,1342.0 1365.0,1341.0 C1370.5,1340.0 1379.8,1340.2 1385.0,1342.0 C1390.2,1343.8 1394.2,1347.3 1396.0,1352.0 C1397.8,1356.7 1398.7,1368.3 1396.0,1370.0 C1393.3,1371.7 1386.0,1363.3 1380.0,1362.0 C1374.0,1360.7 1364.7,1364.3 1360.0,1362.0 C1355.3,1359.7 1351.2,1351.5 1352.0,1348.0Z" fill="#ffa414" stroke="#f6ee10" stroke-width="2" />
<path d="M1350.0,1452.0 C1351.2,1447.7 1357.0,1446.7 1362.0,1446.0 C1367.0,1445.3 1374.3,1447.7 1380.0,1448.0 C1385.7,1448.3 1393.7,1445.0 1396.0,1448.0 C1398.3,1451.0 1397.0,1461.5 1394.0,1466.0 C1391.0,1470.5 1384.5,1474.0 1378.0,1475.0 C1371.5,1476.0 1359.7,1475.8 1355.0,1472.0 C1350.3,1468.2 1348.8,1456.3 1350.0,1452.0Z" fill="#ffa414" stroke="#f6ee10" stroke-width="2" />
<circle cx="1428" cy="1409" r="22" fill="url(#gN)"/>
<path d="M1400.0,1380.0 C1405.0,1367.5 1430.0,1366.7 1440.0,1370.0 C1450.0,1373.3 1458.3,1388.3 1460.0,1400.0 C1461.7,1411.7 1458.3,1432.5 1450.0,1440.0 C1441.7,1447.5 1418.3,1455.0 1410.0,1445.0 C1401.7,1435.0 1395.0,1392.5 1400.0,1380.0Z" fill="#e6e448" stroke="none" stroke-width="0" opacity="0.55"/>
<circle cx="1364.7" cy="1409.2" r="25" fill="url(#gN)"/>
<path d="M1577.0,1380.0 C1578.7,1363.0 1582.8,1346.7 1590.0,1338.0 C1597.2,1329.3 1610.0,1329.3 1620.0,1328.0 C1630.0,1326.7 1642.0,1326.3 1650.0,1330.0 C1658.0,1333.7 1666.3,1344.7 1668.0,1350.0 C1669.7,1355.3 1664.7,1358.3 1660.0,1362.0 C1655.3,1365.7 1646.7,1367.0 1640.0,1372.0 C1633.3,1377.0 1623.3,1384.0 1620.0,1392.0 C1616.7,1400.0 1616.7,1412.0 1620.0,1420.0 C1623.3,1428.0 1632.5,1435.0 1640.0,1440.0 C1647.5,1445.0 1661.3,1445.0 1665.0,1450.0 C1668.7,1455.0 1667.8,1464.5 1662.0,1470.0 C1656.2,1475.5 1641.2,1481.7 1630.0,1483.0 C1618.8,1484.3 1603.3,1485.2 1595.0,1478.0 C1586.7,1470.8 1583.0,1456.3 1580.0,1440.0 C1577.0,1423.7 1575.3,1397.0 1577.0,1380.0Z" fill="url(#gOr)" stroke="#f6ee10" stroke-width="2.5" />
<path d="M1678.0,1355.0 C1682.0,1347.5 1689.7,1342.8 1700.0,1340.0 C1710.3,1337.2 1726.3,1337.0 1740.0,1338.0 C1753.7,1339.0 1774.3,1342.0 1782.0,1346.0 C1789.7,1350.0 1789.7,1358.7 1786.0,1362.0 C1782.3,1365.3 1767.7,1363.3 1760.0,1366.0 C1752.3,1368.7 1744.7,1372.3 1740.0,1378.0 C1735.3,1383.7 1731.7,1392.2 1732.0,1400.0 C1732.3,1407.8 1735.7,1419.0 1742.0,1425.0 C1748.3,1431.0 1762.7,1432.8 1770.0,1436.0 C1777.3,1439.2 1784.3,1439.7 1786.0,1444.0 C1787.7,1448.3 1788.5,1458.5 1780.0,1462.0 C1771.5,1465.5 1748.3,1466.2 1735.0,1465.0 C1721.7,1463.8 1709.2,1462.5 1700.0,1455.0 C1690.8,1447.5 1684.0,1431.7 1680.0,1420.0 C1676.0,1408.3 1676.3,1395.8 1676.0,1385.0 C1675.7,1374.2 1674.0,1362.5 1678.0,1355.0Z" fill="url(#gOr)" stroke="#f6ee10" stroke-width="2.5" />
<line x1="1640" y1="1404" x2="1755" y2="1402" stroke="#b4b8d4" stroke-width="12" stroke-linecap="butt" opacity="1"/>
<circle cx="1640" cy="1404" r="24" fill="url(#gN)"/>
<circle cx="1755.5" cy="1401.6" r="24" fill="url(#gN)"/>
<path d="M1966.0,1380.0 C1967.2,1363.3 1969.3,1349.7 1975.0,1340.0 C1980.7,1330.3 1990.0,1325.3 2000.0,1322.0 C2010.0,1318.7 2026.0,1317.8 2035.0,1320.0 C2044.0,1322.2 2051.5,1330.0 2054.0,1335.0 C2056.5,1340.0 2054.0,1346.2 2050.0,1350.0 C2046.0,1353.8 2037.5,1354.3 2030.0,1358.0 C2022.5,1361.7 2010.3,1365.3 2005.0,1372.0 C1999.7,1378.7 1998.0,1389.2 1998.0,1398.0 C1998.0,1406.8 1999.7,1418.0 2005.0,1425.0 C2010.3,1432.0 2021.8,1435.5 2030.0,1440.0 C2038.2,1444.5 2050.7,1447.0 2054.0,1452.0 C2057.3,1457.0 2056.5,1466.0 2050.0,1470.0 C2043.5,1474.0 2025.8,1476.0 2015.0,1476.0 C2004.2,1476.0 1992.8,1476.0 1985.0,1470.0 C1977.2,1464.0 1971.2,1455.0 1968.0,1440.0 C1964.8,1425.0 1964.8,1396.7 1966.0,1380.0Z" fill="url(#gOr)" stroke="#f6ee10" stroke-width="2.5" />
<circle cx="2027" cy="1398" r="31" fill="#d6d236" stroke="#eeee44" stroke-width="2"/>
<circle cx="2027.2" cy="1397.8" r="24" fill="url(#gN)"/>
<path d="M2067.0,1345.0 C2072.7,1338.3 2089.5,1342.2 2100.0,1340.0 C2110.5,1337.8 2122.7,1333.7 2130.0,1332.0 C2137.3,1330.3 2141.7,1325.7 2144.0,1330.0 C2146.3,1334.3 2147.2,1352.2 2144.0,1358.0 C2140.8,1363.8 2129.8,1358.3 2125.0,1365.0 C2120.2,1371.7 2115.0,1387.2 2115.0,1398.0 C2115.0,1408.8 2120.2,1423.8 2125.0,1430.0 C2129.8,1436.2 2140.8,1429.7 2144.0,1435.0 C2147.2,1440.3 2149.7,1458.2 2144.0,1462.0 C2138.3,1465.8 2120.7,1460.0 2110.0,1458.0 C2099.3,1456.0 2087.0,1456.3 2080.0,1450.0 C2073.0,1443.7 2070.3,1431.7 2068.0,1420.0 C2065.7,1408.3 2066.2,1392.5 2066.0,1380.0 C2065.8,1367.5 2061.3,1351.7 2067.0,1345.0Z" fill="url(#gOr)" stroke="#f6ee10" stroke-width="2.5" />
<path d="M1592.0,1511.0 C1600.0,1496.2 1623.5,1512.8 1640.0,1511.0 C1656.5,1509.2 1676.2,1498.8 1691.0,1500.0 C1705.8,1501.2 1717.2,1510.7 1729.0,1518.0 C1740.8,1525.3 1755.2,1531.7 1762.0,1544.0 C1768.8,1556.3 1769.7,1575.5 1770.0,1592.0 C1770.3,1608.5 1769.5,1629.8 1764.0,1643.0 C1758.5,1656.2 1749.2,1665.2 1737.0,1671.0 C1724.8,1676.8 1707.2,1678.5 1691.0,1678.0 C1674.8,1677.5 1655.7,1671.0 1640.0,1668.0 C1624.3,1665.0 1605.0,1671.3 1597.0,1660.0 C1589.0,1648.7 1592.8,1624.8 1592.0,1600.0 C1591.2,1575.2 1584.0,1525.8 1592.0,1511.0Z" fill="url(#gY)" stroke="#a6a224" stroke-width="2" />
<circle cx="1693" cy="1592" r="30" fill="url(#gF)" opacity="0.9"/>
<path d="M1745.0,1540.0 C1751.7,1521.7 1775.8,1530.0 1790.0,1530.0 C1804.2,1530.0 1823.3,1521.7 1830.0,1540.0 C1836.7,1558.3 1836.7,1621.7 1830.0,1640.0 C1823.3,1658.3 1803.3,1650.0 1790.0,1650.0 C1776.7,1650.0 1757.5,1658.3 1750.0,1640.0 C1742.5,1621.7 1738.3,1558.3 1745.0,1540.0Z" fill="#e0de3a" stroke="#a6a224" stroke-width="2" />
<ellipse cx="1772" cy="1584" rx="10" ry="33" fill="#ffffff" stroke="#a8a830" stroke-width="2"/>
<path d="M1355.0,1530.0 C1362.5,1510.0 1385.8,1523.3 1400.0,1525.0 C1414.2,1526.7 1433.3,1520.8 1440.0,1540.0 C1446.7,1559.2 1446.7,1620.8 1440.0,1640.0 C1433.3,1659.2 1414.2,1654.2 1400.0,1655.0 C1385.8,1655.8 1362.5,1665.8 1355.0,1645.0 C1347.5,1624.2 1347.5,1550.0 1355.0,1530.0Z" fill="#e0de3a" stroke="#a6a224" stroke-width="2" />
<ellipse cx="1384" cy="1590" rx="10" ry="32" fill="#ffffff" stroke="#a8a830" stroke-width="2"/>
<line x1="1388" y1="1591" x2="1430" y2="1591" stroke="#b8bcd6" stroke-width="9" stroke-linecap="butt" opacity="1"/>
<path d="M1990.0,1541.0 C1993.3,1529.7 1998.7,1516.8 2008.0,1511.0 C2017.3,1505.2 2032.0,1506.0 2046.0,1506.0 C2060.0,1506.0 2081.0,1505.2 2092.0,1511.0 C2103.0,1516.8 2107.0,1527.5 2112.0,1541.0 C2117.0,1554.5 2120.3,1575.0 2122.0,1592.0 C2123.7,1609.0 2124.0,1629.8 2122.0,1643.0 C2120.0,1656.2 2118.3,1666.0 2110.0,1671.0 C2101.7,1676.0 2086.8,1675.5 2072.0,1673.0 C2057.2,1670.5 2033.7,1665.3 2021.0,1656.0 C2008.3,1646.7 2001.5,1629.8 1996.0,1617.0 C1990.5,1604.2 1989.0,1591.7 1988.0,1579.0 C1987.0,1566.3 1986.7,1552.3 1990.0,1541.0Z" fill="url(#gOY)" stroke="#a6a224" stroke-width="2" />
<circle cx="2066" cy="1592" r="24" fill="url(#gF)" opacity="0.9"/>
<path d="M1203.5,1592.0 C1203.5,1575.0 1207.2,1553.7 1213.6,1541.0 C1219.9,1528.3 1230.2,1521.7 1241.6,1515.8 C1253.0,1509.9 1269.5,1507.0 1282.2,1505.7 C1294.9,1504.4 1307.7,1505.2 1317.8,1508.2 C1327.9,1511.2 1334.6,1515.9 1343.1,1523.5 C1351.5,1531.1 1363.4,1542.6 1368.5,1554.0 C1373.6,1565.4 1373.6,1577.2 1373.6,1592.0 C1373.6,1606.8 1372.7,1628.8 1368.5,1642.8 C1364.3,1656.8 1356.7,1668.6 1348.2,1675.8 C1339.8,1683.0 1328.8,1684.7 1317.8,1686.0 C1306.8,1687.3 1294.9,1686.4 1282.2,1683.4 C1269.5,1680.4 1253.0,1675.0 1241.6,1668.2 C1230.2,1661.4 1219.9,1655.5 1213.6,1642.8 C1207.2,1630.1 1203.5,1609.0 1203.5,1592.0Z" fill="url(#gYO)" stroke="#a6a224" stroke-width="2" />
<path d="M1343.0,1525.0 C1346.5,1525.3 1361.0,1540.8 1366.0,1552.0 C1371.0,1563.2 1372.7,1577.0 1373.0,1592.0 C1373.3,1607.0 1371.8,1628.3 1368.0,1642.0 C1364.2,1655.7 1355.5,1668.0 1350.0,1674.0 C1344.5,1680.0 1335.0,1683.7 1335.0,1678.0 C1335.0,1672.3 1347.2,1654.7 1350.0,1640.0 C1352.8,1625.3 1352.8,1605.0 1352.0,1590.0 C1351.2,1575.0 1346.5,1560.8 1345.0,1550.0 C1343.5,1539.2 1339.5,1524.7 1343.0,1525.0Z" fill="#c9c530" stroke="none" stroke-width="0" />
<clipPath id="dc4"><path d="M1264.4,1554.0 C1266.5,1541.3 1269.9,1534.2 1274.6,1528.5 C1279.3,1522.8 1285.2,1519.7 1292.4,1519.7 C1299.6,1519.7 1310.6,1522.8 1317.8,1528.5 C1325.0,1534.2 1331.3,1543.4 1335.5,1554.0 C1339.7,1564.6 1341.8,1577.2 1343.1,1592.0 C1344.4,1606.8 1344.8,1629.2 1343.1,1642.8 C1341.4,1656.3 1338.1,1666.5 1333.0,1673.3 C1327.9,1680.1 1320.3,1683.0 1312.7,1683.4 C1305.1,1683.8 1294.5,1681.3 1287.3,1675.8 C1280.1,1670.3 1273.7,1662.2 1269.5,1650.4 C1265.3,1638.6 1262.8,1620.8 1261.9,1604.7 C1261.1,1588.6 1262.3,1566.7 1264.4,1554.0Z"/></clipPath><radialGradient id="dg4" gradientUnits="userSpaceOnUse" cx="1297.4" cy="1598.4" r="95"><stop offset="0" stop-color="#ffe428"/><stop offset="0.36" stop-color="#ffd424"/><stop offset="0.5" stop-color="#ffa01a"/><stop offset="0.75" stop-color="#ff7a14"/><stop offset="1" stop-color="#ff8c16"/></radialGradient><radialGradient id="ds4" gradientUnits="userSpaceOnUse" cx="1328" cy="1648" r="65"><stop offset="0" stop-color="#ff160a" stop-opacity="1"/><stop offset="0.45" stop-color="#ff240c" stop-opacity="0.9"/><stop offset="1" stop-color="#ff500e" stop-opacity="0"/></radialGradient><g clip-path="url(#dc4)"><path d="M1264.4,1554.0 C1266.5,1541.3 1269.9,1534.2 1274.6,1528.5 C1279.3,1522.8 1285.2,1519.7 1292.4,1519.7 C1299.6,1519.7 1310.6,1522.8 1317.8,1528.5 C1325.0,1534.2 1331.3,1543.4 1335.5,1554.0 C1339.7,1564.6 1341.8,1577.2 1343.1,1592.0 C1344.4,1606.8 1344.8,1629.2 1343.1,1642.8 C1341.4,1656.3 1338.1,1666.5 1333.0,1673.3 C1327.9,1680.1 1320.3,1683.0 1312.7,1683.4 C1305.1,1683.8 1294.5,1681.3 1287.3,1675.8 C1280.1,1670.3 1273.7,1662.2 1269.5,1650.4 C1265.3,1638.6 1262.8,1620.8 1261.9,1604.7 C1261.1,1588.6 1262.3,1566.7 1264.4,1554.0Z" fill="url(#dg4)"/><path d="M1264.4,1554.0 C1266.5,1541.3 1269.9,1534.2 1274.6,1528.5 C1279.3,1522.8 1285.2,1519.7 1292.4,1519.7 C1299.6,1519.7 1310.6,1522.8 1317.8,1528.5 C1325.0,1534.2 1331.3,1543.4 1335.5,1554.0 C1339.7,1564.6 1341.8,1577.2 1343.1,1592.0 C1344.4,1606.8 1344.8,1629.2 1343.1,1642.8 C1341.4,1656.3 1338.1,1666.5 1333.0,1673.3 C1327.9,1680.1 1320.3,1683.0 1312.7,1683.4 C1305.1,1683.8 1294.5,1681.3 1287.3,1675.8 C1280.1,1670.3 1273.7,1662.2 1269.5,1650.4 C1265.3,1638.6 1262.8,1620.8 1261.9,1604.7 C1261.1,1588.6 1262.3,1566.7 1264.4,1554.0Z" fill="url(#ds4)"/></g><path d="M1264.4,1554.0 C1266.5,1541.3 1269.9,1534.2 1274.6,1528.5 C1279.3,1522.8 1285.2,1519.7 1292.4,1519.7 C1299.6,1519.7 1310.6,1522.8 1317.8,1528.5 C1325.0,1534.2 1331.3,1543.4 1335.5,1554.0 C1339.7,1564.6 1341.8,1577.2 1343.1,1592.0 C1344.4,1606.8 1344.8,1629.2 1343.1,1642.8 C1341.4,1656.3 1338.1,1666.5 1333.0,1673.3 C1327.9,1680.1 1320.3,1683.0 1312.7,1683.4 C1305.1,1683.8 1294.5,1681.3 1287.3,1675.8 C1280.1,1670.3 1273.7,1662.2 1269.5,1650.4 C1265.3,1638.6 1262.8,1620.8 1261.9,1604.7 C1261.1,1588.6 1262.3,1566.7 1264.4,1554.0Z" fill="none" stroke="#f4ec10" stroke-width="3.2"/><ellipse cx="1297.4" cy="1598.4" rx="20" ry="34" fill="#c9c630" stroke="#eeee44" stroke-width="2"/><circle cx="1297.4" cy="1598.4" r="26" fill="url(#gN)"/>
<path d="M1560.0,1540.0 C1562.0,1533.3 1569.0,1550.0 1572.0,1560.0 C1575.0,1570.0 1578.0,1586.7 1578.0,1600.0 C1578.0,1613.3 1575.7,1629.2 1572.0,1640.0 C1568.3,1650.8 1560.5,1661.7 1556.0,1665.0 C1551.5,1668.3 1544.3,1670.8 1545.0,1660.0 C1545.7,1649.2 1557.5,1620.0 1560.0,1600.0 C1562.5,1580.0 1558.0,1546.7 1560.0,1540.0Z" fill="#cfcc34" stroke="#a6a224" stroke-width="2" />
<clipPath id="dc5"><path d="M1419.3,1566.6 C1424.6,1557.7 1434.1,1545.5 1444.7,1538.7 C1455.3,1531.9 1468.0,1527.7 1482.8,1526.0 C1497.6,1524.3 1520.5,1523.8 1533.6,1528.5 C1546.7,1533.2 1555.2,1543.4 1561.5,1554.0 C1567.8,1564.6 1570.9,1578.0 1571.7,1592.0 C1572.5,1606.0 1570.8,1625.0 1566.6,1637.7 C1562.4,1650.4 1556.0,1660.2 1546.3,1668.2 C1536.6,1676.2 1523.0,1682.6 1508.2,1686.0 C1493.4,1689.4 1471.4,1690.6 1457.4,1688.5 C1443.4,1686.4 1432.0,1683.0 1424.4,1673.3 C1416.8,1663.5 1413.6,1643.5 1411.7,1630.0 C1409.8,1616.5 1411.7,1602.6 1413.0,1592.0 C1414.3,1581.4 1414.0,1575.5 1419.3,1566.6Z"/></clipPath><radialGradient id="dg5" gradientUnits="userSpaceOnUse" cx="1503" cy="1604.7" r="95"><stop offset="0" stop-color="#ffe428"/><stop offset="0.36" stop-color="#ffd424"/><stop offset="0.5" stop-color="#ffa01a"/><stop offset="0.75" stop-color="#ff7a14"/><stop offset="1" stop-color="#ff8c16"/></radialGradient><radialGradient id="ds5" gradientUnits="userSpaceOnUse" cx="1448" cy="1650" r="80"><stop offset="0" stop-color="#ff160a" stop-opacity="1"/><stop offset="0.45" stop-color="#ff240c" stop-opacity="0.9"/><stop offset="1" stop-color="#ff500e" stop-opacity="0"/></radialGradient><g clip-path="url(#dc5)"><path d="M1419.3,1566.6 C1424.6,1557.7 1434.1,1545.5 1444.7,1538.7 C1455.3,1531.9 1468.0,1527.7 1482.8,1526.0 C1497.6,1524.3 1520.5,1523.8 1533.6,1528.5 C1546.7,1533.2 1555.2,1543.4 1561.5,1554.0 C1567.8,1564.6 1570.9,1578.0 1571.7,1592.0 C1572.5,1606.0 1570.8,1625.0 1566.6,1637.7 C1562.4,1650.4 1556.0,1660.2 1546.3,1668.2 C1536.6,1676.2 1523.0,1682.6 1508.2,1686.0 C1493.4,1689.4 1471.4,1690.6 1457.4,1688.5 C1443.4,1686.4 1432.0,1683.0 1424.4,1673.3 C1416.8,1663.5 1413.6,1643.5 1411.7,1630.0 C1409.8,1616.5 1411.7,1602.6 1413.0,1592.0 C1414.3,1581.4 1414.0,1575.5 1419.3,1566.6Z" fill="url(#dg5)"/><path d="M1419.3,1566.6 C1424.6,1557.7 1434.1,1545.5 1444.7,1538.7 C1455.3,1531.9 1468.0,1527.7 1482.8,1526.0 C1497.6,1524.3 1520.5,1523.8 1533.6,1528.5 C1546.7,1533.2 1555.2,1543.4 1561.5,1554.0 C1567.8,1564.6 1570.9,1578.0 1571.7,1592.0 C1572.5,1606.0 1570.8,1625.0 1566.6,1637.7 C1562.4,1650.4 1556.0,1660.2 1546.3,1668.2 C1536.6,1676.2 1523.0,1682.6 1508.2,1686.0 C1493.4,1689.4 1471.4,1690.6 1457.4,1688.5 C1443.4,1686.4 1432.0,1683.0 1424.4,1673.3 C1416.8,1663.5 1413.6,1643.5 1411.7,1630.0 C1409.8,1616.5 1411.7,1602.6 1413.0,1592.0 C1414.3,1581.4 1414.0,1575.5 1419.3,1566.6Z" fill="url(#ds5)"/></g><path d="M1419.3,1566.6 C1424.6,1557.7 1434.1,1545.5 1444.7,1538.7 C1455.3,1531.9 1468.0,1527.7 1482.8,1526.0 C1497.6,1524.3 1520.5,1523.8 1533.6,1528.5 C1546.7,1533.2 1555.2,1543.4 1561.5,1554.0 C1567.8,1564.6 1570.9,1578.0 1571.7,1592.0 C1572.5,1606.0 1570.8,1625.0 1566.6,1637.7 C1562.4,1650.4 1556.0,1660.2 1546.3,1668.2 C1536.6,1676.2 1523.0,1682.6 1508.2,1686.0 C1493.4,1689.4 1471.4,1690.6 1457.4,1688.5 C1443.4,1686.4 1432.0,1683.0 1424.4,1673.3 C1416.8,1663.5 1413.6,1643.5 1411.7,1630.0 C1409.8,1616.5 1411.7,1602.6 1413.0,1592.0 C1414.3,1581.4 1414.0,1575.5 1419.3,1566.6Z" fill="none" stroke="#f4ec10" stroke-width="3.2"/><circle cx="1503" cy="1604.7" r="34" fill="#d8d432" stroke="#eeee44" stroke-width="2"/><circle cx="1503" cy="1604.7" r="27" fill="url(#gN)"/>
<path d="M1950.0,1540.0 C1952.2,1533.3 1963.8,1550.0 1968.0,1560.0 C1972.2,1570.0 1975.0,1586.7 1975.0,1600.0 C1975.0,1613.3 1972.2,1628.7 1968.0,1640.0 C1963.8,1651.3 1954.7,1664.7 1950.0,1668.0 C1945.3,1671.3 1939.2,1671.3 1940.0,1660.0 C1940.8,1648.7 1953.3,1620.0 1955.0,1600.0 C1956.7,1580.0 1947.8,1546.7 1950.0,1540.0Z" fill="#cfcc34" stroke="#a6a224" stroke-width="2" />
<clipPath id="dc6"><path d="M1812.7,1554.0 C1818.2,1545.5 1826.6,1534.4 1838.0,1528.5 C1849.4,1522.6 1865.5,1519.2 1881.2,1518.4 C1896.9,1517.6 1919.3,1518.4 1932.0,1523.5 C1944.7,1528.6 1951.9,1537.5 1957.4,1548.9 C1962.9,1560.3 1964.6,1577.2 1965.0,1592.0 C1965.4,1606.8 1965.5,1625.0 1960.0,1637.7 C1954.5,1650.4 1943.0,1661.0 1932.0,1668.2 C1921.0,1675.4 1908.8,1679.3 1894.0,1681.0 C1879.2,1682.7 1856.6,1681.8 1843.1,1678.4 C1829.5,1675.0 1819.5,1670.8 1812.7,1660.6 C1805.9,1650.4 1803.8,1631.0 1802.5,1617.4 C1801.2,1603.9 1803.3,1589.9 1805.0,1579.3 C1806.7,1568.7 1807.2,1562.5 1812.7,1554.0Z"/></clipPath><radialGradient id="dg6" gradientUnits="userSpaceOnUse" cx="1895.2" cy="1598.4" r="95"><stop offset="0" stop-color="#ffe428"/><stop offset="0.36" stop-color="#ffd424"/><stop offset="0.5" stop-color="#ffa01a"/><stop offset="0.75" stop-color="#ff7a14"/><stop offset="1" stop-color="#ff8c16"/></radialGradient><radialGradient id="ds6" gradientUnits="userSpaceOnUse" cx="1840" cy="1648" r="80"><stop offset="0" stop-color="#ff160a" stop-opacity="1"/><stop offset="0.45" stop-color="#ff240c" stop-opacity="0.9"/><stop offset="1" stop-color="#ff500e" stop-opacity="0"/></radialGradient><g clip-path="url(#dc6)"><path d="M1812.7,1554.0 C1818.2,1545.5 1826.6,1534.4 1838.0,1528.5 C1849.4,1522.6 1865.5,1519.2 1881.2,1518.4 C1896.9,1517.6 1919.3,1518.4 1932.0,1523.5 C1944.7,1528.6 1951.9,1537.5 1957.4,1548.9 C1962.9,1560.3 1964.6,1577.2 1965.0,1592.0 C1965.4,1606.8 1965.5,1625.0 1960.0,1637.7 C1954.5,1650.4 1943.0,1661.0 1932.0,1668.2 C1921.0,1675.4 1908.8,1679.3 1894.0,1681.0 C1879.2,1682.7 1856.6,1681.8 1843.1,1678.4 C1829.5,1675.0 1819.5,1670.8 1812.7,1660.6 C1805.9,1650.4 1803.8,1631.0 1802.5,1617.4 C1801.2,1603.9 1803.3,1589.9 1805.0,1579.3 C1806.7,1568.7 1807.2,1562.5 1812.7,1554.0Z" fill="url(#dg6)"/><path d="M1812.7,1554.0 C1818.2,1545.5 1826.6,1534.4 1838.0,1528.5 C1849.4,1522.6 1865.5,1519.2 1881.2,1518.4 C1896.9,1517.6 1919.3,1518.4 1932.0,1523.5 C1944.7,1528.6 1951.9,1537.5 1957.4,1548.9 C1962.9,1560.3 1964.6,1577.2 1965.0,1592.0 C1965.4,1606.8 1965.5,1625.0 1960.0,1637.7 C1954.5,1650.4 1943.0,1661.0 1932.0,1668.2 C1921.0,1675.4 1908.8,1679.3 1894.0,1681.0 C1879.2,1682.7 1856.6,1681.8 1843.1,1678.4 C1829.5,1675.0 1819.5,1670.8 1812.7,1660.6 C1805.9,1650.4 1803.8,1631.0 1802.5,1617.4 C1801.2,1603.9 1803.3,1589.9 1805.0,1579.3 C1806.7,1568.7 1807.2,1562.5 1812.7,1554.0Z" fill="url(#ds6)"/></g><path d="M1812.7,1554.0 C1818.2,1545.5 1826.6,1534.4 1838.0,1528.5 C1849.4,1522.6 1865.5,1519.2 1881.2,1518.4 C1896.9,1517.6 1919.3,1518.4 1932.0,1523.5 C1944.7,1528.6 1951.9,1537.5 1957.4,1548.9 C1962.9,1560.3 1964.6,1577.2 1965.0,1592.0 C1965.4,1606.8 1965.5,1625.0 1960.0,1637.7 C1954.5,1650.4 1943.0,1661.0 1932.0,1668.2 C1921.0,1675.4 1908.8,1679.3 1894.0,1681.0 C1879.2,1682.7 1856.6,1681.8 1843.1,1678.4 C1829.5,1675.0 1819.5,1670.8 1812.7,1660.6 C1805.9,1650.4 1803.8,1631.0 1802.5,1617.4 C1801.2,1603.9 1803.3,1589.9 1805.0,1579.3 C1806.7,1568.7 1807.2,1562.5 1812.7,1554.0Z" fill="none" stroke="#f4ec10" stroke-width="3.2"/><circle cx="1895.2" cy="1598.4" r="34" fill="#d8d432" stroke="#eeee44" stroke-width="2"/><circle cx="1895.2" cy="1598.4" r="27" fill="url(#gN)"/>
<line x1="1405" y1="1258" x2="1440" y2="1232" stroke="#c4c6a8" stroke-width="10" stroke-linecap="butt" opacity="0.85"/>
<line x1="1355.8" y1="1292.4" x2="1405" y2="1258" stroke="#2a50d8" stroke-width="11" stroke-linecap="butt" opacity="1"/>
<line x1="1382.86" y1="1271.48" x2="1405" y2="1256" stroke="#9cc0ff" stroke-width="3" stroke-linecap="butt" opacity="0.8"/>
<line x1="1308" y1="1330" x2="1252" y2="1375" stroke="#c4c6a8" stroke-width="10" stroke-linecap="butt" opacity="0.85"/>
<line x1="1355.8" y1="1292.4" x2="1308" y2="1330" stroke="#2a50d8" stroke-width="11" stroke-linecap="butt" opacity="1"/>
<line x1="1329.51" y1="1311.08" x2="1308" y2="1328" stroke="#9cc0ff" stroke-width="3" stroke-linecap="butt" opacity="0.8"/>
<circle cx="1355.8" cy="1292.4" r="40.6" fill="url(#gSi)"/>
<line x1="1795" y1="1250" x2="1825" y2="1228" stroke="#c4c6a8" stroke-width="10" stroke-linecap="butt" opacity="0.85"/>
<line x1="1745.4" y1="1286.0" x2="1795" y2="1250" stroke="#2a50d8" stroke-width="11" stroke-linecap="butt" opacity="1"/>
<line x1="1772.68" y1="1264.2" x2="1795" y2="1248" stroke="#9cc0ff" stroke-width="3" stroke-linecap="butt" opacity="0.8"/>
<line x1="1703" y1="1318" x2="1655" y2="1352" stroke="#c4c6a8" stroke-width="10" stroke-linecap="butt" opacity="0.85"/>
<line x1="1745.4" y1="1286.0" x2="1703" y2="1318" stroke="#2a50d8" stroke-width="11" stroke-linecap="butt" opacity="1"/>
<line x1="1722.08" y1="1301.6" x2="1703" y2="1316" stroke="#9cc0ff" stroke-width="3" stroke-linecap="butt" opacity="0.8"/>
<circle cx="1745.4" cy="1286.0" r="40.6" fill="url(#gSi)"/>
<line x1="1510" y1="1462" x2="1405" y2="1392" stroke="#c4c6a8" stroke-width="10" stroke-linecap="butt" opacity="0.85"/>
<line x1="1557.7" y1="1495.5" x2="1510" y2="1462" stroke="#2a50d8" stroke-width="11" stroke-linecap="butt" opacity="1"/>
<line x1="1531.465" y1="1475.075" x2="1510" y2="1460" stroke="#9cc0ff" stroke-width="3" stroke-linecap="butt" opacity="0.8"/>
<line x1="1606" y1="1530" x2="1665" y2="1572" stroke="#c4c6a8" stroke-width="10" stroke-linecap="butt" opacity="0.85"/>
<line x1="1557.7" y1="1495.5" x2="1606" y2="1530" stroke="#2a50d8" stroke-width="11" stroke-linecap="butt" opacity="1"/>
<line x1="1584.265" y1="1512.475" x2="1606" y2="1528" stroke="#9cc0ff" stroke-width="3" stroke-linecap="butt" opacity="0.8"/>
<circle cx="1557.7" cy="1495.5" r="40.6" fill="url(#gSi)"/>
<line x1="1903" y1="1457" x2="1838" y2="1412" stroke="#c4c6a8" stroke-width="10" stroke-linecap="butt" opacity="0.85"/>
<line x1="1947.3" y1="1489.2" x2="1903" y2="1457" stroke="#2a50d8" stroke-width="11" stroke-linecap="butt" opacity="1"/>
<line x1="1922.935" y1="1469.49" x2="1903" y2="1455" stroke="#9cc0ff" stroke-width="3" stroke-linecap="butt" opacity="0.8"/>
<line x1="1994" y1="1522" x2="2062" y2="1570" stroke="#c4c6a8" stroke-width="10" stroke-linecap="butt" opacity="0.85"/>
<line x1="1947.3" y1="1489.2" x2="1994" y2="1522" stroke="#2a50d8" stroke-width="11" stroke-linecap="butt" opacity="1"/>
<line x1="1972.985" y1="1505.24" x2="1994" y2="1520" stroke="#9cc0ff" stroke-width="3" stroke-linecap="butt" opacity="0.8"/>
<circle cx="1947.3" cy="1489.2" r="40.6" fill="url(#gSi)"/>
</svg></body></html>
